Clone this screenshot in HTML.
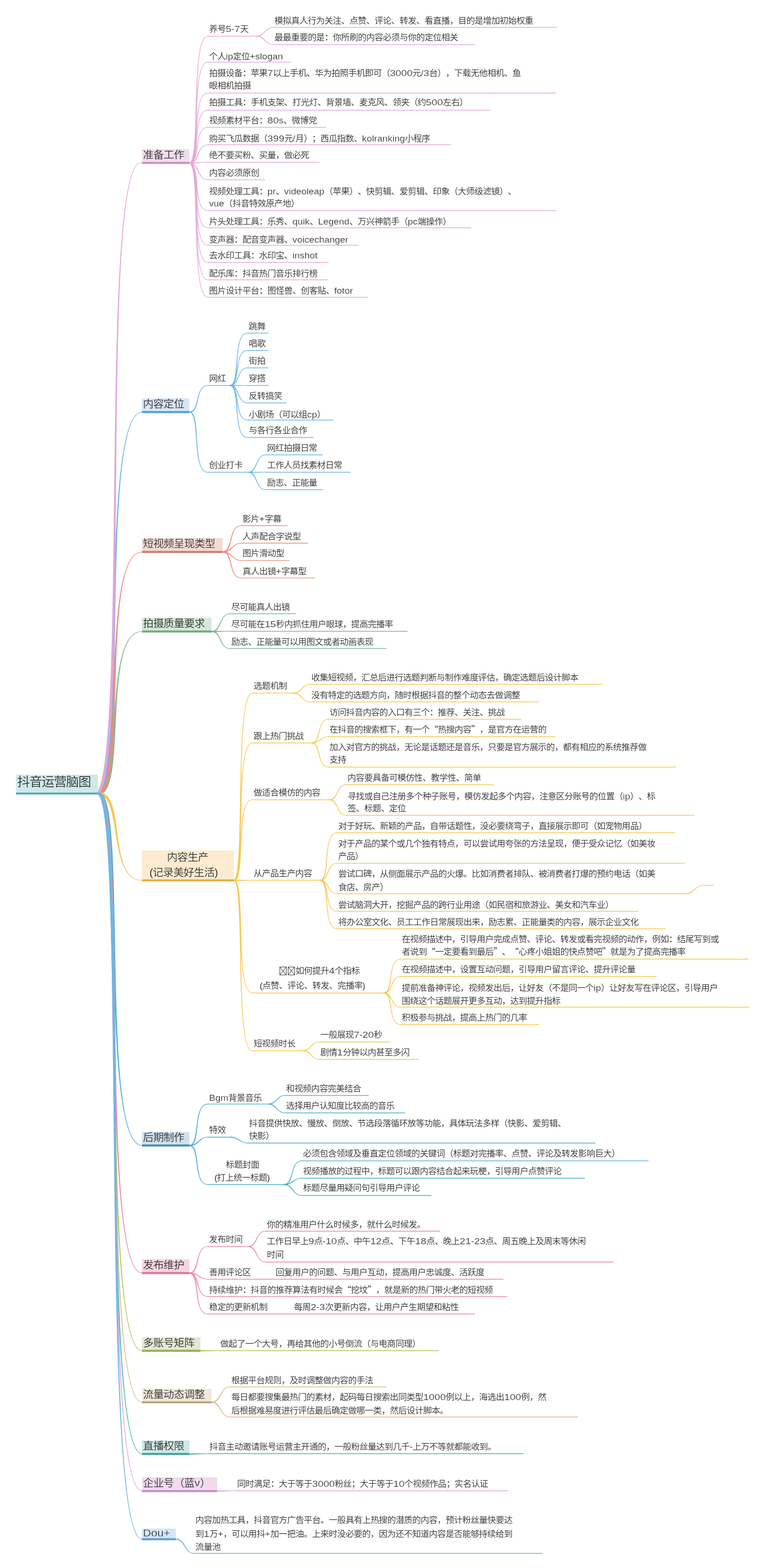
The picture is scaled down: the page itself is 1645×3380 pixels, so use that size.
<!DOCTYPE html>
<html lang="zh-CN">
<head>
<meta charset="utf-8">
<title>抖音运营脑图</title>
<style>
html,body{margin:0;padding:0;background:#fff;}
body{width:1645px;height:3380px;overflow:hidden;}
svg{display:block;will-change:transform;}
text{font-family:"Liberation Sans","Noto Sans CJK SC",sans-serif;fill:#333;font-weight:350;text-spacing-trim:space-all;white-space:pre;}
.t{font-size:18.7px;letter-spacing:-.7px;}
.m{font-size:22px;letter-spacing:-.65px;}
.r{font-size:27.7px;letter-spacing:-1.3px;}
.q{font-family:"Noto Sans CJK SC",sans-serif;}
.l{letter-spacing:0;stroke:#fff;stroke-width:.18px;}
.t .l{font-size:18.4px;}
.m .l{font-size:22.5px;stroke-width:.3px;}
.h path{stroke-width:1.4px;stroke-opacity:.12;}
.tofu rect,.tofu path{fill:none;stroke:#333;stroke-width:1.1;}
</style>
</head>
<body>
<svg width="1645" height="3380" viewBox="0 0 1645 3380">
<g><path fill="#6bb6ea" d="M211.5,1713.4L215.2,1712.6L218.5,1710.6L221.3,1707.7L223.6,1704L225.8,1699.4L227.7,1694.1L229.6,1688L231.2,1681.1L232.8,1673.5L234.2,1665.1L235.5,1656.1L236.7,1646.4L237.9,1636L238.9,1625L239.8,1613.4L240.7,1601.2L241.5,1588.5L242.2,1575.3L242.9,1561.5L243.5,1547.4L244.1,1532.8L244.6,1517.8L245,1502.4L245.4,1486.7L245.8,1470.6L246.2,1454.3L246.5,1437.7L246.8,1420.9L247.1,1403.9L247.4,1386.7L247.7,1369.4L248,1352L248.3,1334.5L248.6,1316.9L248.9,1299.3L249.2,1281.7L249.6,1264.1L249.9,1246.6L250.4,1229.1L250.8,1211.8L251.3,1194.6L251.9,1177.6L252.5,1160.8L253.1,1144.3L253.9,1128L254.7,1111.9L255.5,1096.2L256.5,1080.9L257.5,1065.9L258.6,1051.3L259.8,1037.1L261.2,1023.5L262.6,1010.3L264.1,997.6L265.7,985.4L267.5,973.9L269.3,962.9L271.3,952.6L273.5,942.9L275.7,934L278.1,925.7L280.7,918.2L283.4,911.5L286.2,905.6L289.2,900.6L292.4,896.4L295.7,893.1L299.1,890.8L302.7,889.3L306.5,888.9L306.5,887.6L302.4,888.2L298.6,889.7L294.9,892.2L291.4,895.6L288.2,899.9L285.1,905L282.2,911L279.4,917.8L276.8,925.3L274.3,933.6L272,942.6L269.8,952.3L267.7,962.6L265.8,973.6L263.9,985.2L262.2,997.3L260.6,1010L259.1,1023.2L257.7,1036.9L256.4,1051.1L255.2,1065.7L254.1,1080.7L253,1096.1L252.1,1111.8L251.2,1127.8L250.4,1144.1L249.6,1160.7L248.9,1177.5L248.2,1194.5L247.6,1211.7L247,1229L246.5,1246.5L246,1264L245.6,1281.6L245.1,1299.2L244.7,1316.8L244.3,1334.4L243.9,1351.9L243.5,1369.3L243.1,1386.7L242.7,1403.8L242.3,1420.8L241.9,1437.6L241.5,1454.2L241,1470.5L240.5,1486.5L240,1502.2L239.5,1517.6L238.9,1532.6L238.2,1547.1L237.5,1561.3L236.8,1575L236,1588.1L235.1,1600.8L234.2,1612.9L233.1,1624.5L232,1635.4L230.9,1645.7L229.6,1655.3L228.2,1664.2L226.8,1672.4L225.3,1679.8L223.6,1686.4L221.9,1692.1L220,1697L218.2,1701L216.3,1703.9L214.5,1705.8L212.9,1706.8L211.5,1707Z"/><path fill="#7bbc95" d="M211.5,1713.4L214.6,1713.1L217.5,1712.3L220.2,1711.1L222.7,1709.4L225,1707.3L227.1,1704.9L229.1,1702.1L230.8,1699L232.5,1695.6L234,1692L235.4,1688L236.7,1683.8L237.9,1679.3L239,1674.5L240,1669.6L241,1664.3L241.8,1658.9L242.6,1653.2L243.4,1647.4L244.1,1641.3L244.7,1635.1L245.3,1628.7L245.8,1622.2L246.3,1615.5L246.8,1608.6L247.2,1601.7L247.7,1594.7L248.1,1587.5L248.4,1580.3L248.8,1573L249.2,1565.6L249.5,1558.2L249.9,1550.8L250.3,1543.3L250.7,1535.8L251.1,1528.4L251.5,1520.9L251.9,1513.5L252.4,1506.1L252.9,1498.7L253.5,1491.4L254.1,1484.2L254.7,1477.1L255.4,1470.1L256.2,1463.1L257,1456.4L257.9,1449.7L258.9,1443.2L259.9,1436.8L261,1430.6L262.2,1424.6L263.5,1418.8L264.8,1413.2L266.3,1407.9L267.9,1402.7L269.6,1397.8L271.4,1393.2L273.3,1388.8L275.3,1384.8L277.4,1381L279.7,1377.5L282.1,1374.3L284.7,1371.5L287.3,1369L290.1,1366.9L293.1,1365.1L296.2,1363.7L299.5,1362.7L302.9,1362.1L306.5,1361.8L306.5,1360.7L302.8,1360.9L299.2,1361.5L295.8,1362.5L292.5,1364L289.4,1365.8L286.5,1368L283.7,1370.5L281.1,1373.4L278.6,1376.7L276.2,1380.2L273.9,1384L271.8,1388.2L269.8,1392.6L268,1397.2L266.2,1402.2L264.5,1407.3L263,1412.7L261.5,1418.4L260.1,1424.2L258.8,1430.2L257.6,1436.4L256.5,1442.8L255.4,1449.3L254.5,1456L253.5,1462.8L252.7,1469.8L251.9,1476.8L251.1,1483.9L250.4,1491.2L249.7,1498.5L249.1,1505.8L248.5,1513.2L248,1520.7L247.4,1528.1L246.9,1535.6L246.4,1543.1L245.9,1550.6L245.5,1558L245,1565.4L244.5,1572.7L244,1580L243.6,1587.2L243.1,1594.4L242.5,1601.4L242,1608.3L241.4,1615.1L240.8,1621.7L240.2,1628.2L239.5,1634.6L238.8,1640.7L238,1646.7L237.2,1652.5L236.4,1658L235.4,1663.4L234.4,1668.4L233.4,1673.3L232.2,1677.8L231,1682.1L229.7,1686.1L228.4,1689.8L227,1693.1L225.5,1696.1L223.9,1698.8L222.3,1701L220.6,1702.9L218.9,1704.4L217.1,1705.6L215.3,1706.4L213.5,1706.9L211.5,1707Z"/><path fill="#ee8b78" d="M211.5,1713.4L214.8,1712.9L217.9,1711.7L220.7,1709.8L223.2,1707.3L225.5,1704.3L227.5,1700.8L229.4,1696.8L231.1,1692.4L232.7,1687.5L234.1,1682.1L235.5,1676.3L236.7,1670.1L237.9,1663.5L238.9,1656.5L239.9,1649.1L240.8,1641.4L241.6,1633.3L242.4,1624.9L243.1,1616.2L243.7,1607.2L244.3,1597.9L244.8,1588.4L245.3,1578.7L245.8,1568.7L246.2,1558.6L246.6,1548.2L246.9,1537.7L247.3,1527.1L247.6,1516.3L247.9,1505.4L248.2,1494.5L248.5,1483.4L248.8,1472.3L249.2,1461.2L249.5,1450L249.9,1438.9L250.2,1427.8L250.7,1416.7L251.1,1405.6L251.6,1394.7L252.1,1383.8L252.7,1373L253.3,1362.4L254,1351.9L254.7,1341.6L255.5,1331.5L256.4,1321.5L257.3,1311.8L258.4,1302.3L259.5,1293.1L260.7,1284.1L262,1275.5L263.4,1267.1L264.9,1259.1L266.5,1251.4L268.2,1244.1L270.1,1237.2L272,1230.6L274.1,1224.5L276.3,1218.9L278.7,1213.7L281.2,1208.9L283.8,1204.7L286.6,1201L289.5,1197.8L292.6,1195.2L295.8,1193.1L299.2,1191.6L302.8,1190.7L306.5,1190.3L306.5,1189.2L302.6,1189.5L298.8,1190.4L295.3,1192L291.9,1194.2L288.6,1196.9L285.6,1200.1L282.7,1203.9L280,1208.2L277.4,1213L275,1218.3L272.7,1224L270.5,1230.1L268.5,1236.7L266.5,1243.7L264.7,1251L263,1258.7L261.4,1266.8L260,1275.1L258.6,1283.8L257.3,1292.8L256.1,1302L254.9,1311.5L253.9,1321.3L252.9,1331.2L252,1341.4L251.2,1351.7L250.4,1362.2L249.7,1372.9L249,1383.6L248.4,1394.5L247.8,1405.5L247.2,1416.5L246.7,1427.6L246.2,1438.8L245.8,1449.9L245.3,1461.1L244.9,1472.2L244.5,1483.3L244,1494.3L243.6,1505.3L243.2,1516.2L242.8,1526.9L242.3,1537.6L241.9,1548L241.4,1558.4L240.9,1568.5L240.3,1578.4L239.7,1588.1L239.1,1597.6L238.4,1606.8L237.7,1615.8L236.9,1624.4L236.1,1632.7L235.2,1640.7L234.3,1648.4L233.2,1655.7L232.1,1662.5L230.9,1669L229.7,1675L228.3,1680.6L226.9,1685.7L225.3,1690.3L223.7,1694.4L222,1697.9L220.3,1700.9L218.5,1703.3L216.7,1705L215,1706.2L213.3,1706.8L211.5,1707Z"/><path fill="#f9c74f" d="M211.5,1713.4L213.6,1713.4L215.6,1713.7L217.5,1714.2L219.3,1714.8L221,1715.7L222.6,1716.7L224.2,1717.8L225.7,1719.2L227.2,1720.7L228.6,1722.4L230,1724.3L231.3,1726.3L232.5,1728.5L233.7,1730.9L234.9,1733.4L236,1736.1L237,1738.9L238,1741.8L238.9,1744.9L239.8,1748L240.7,1751.3L241.5,1754.7L242.3,1758.1L243.1,1761.7L243.8,1765.3L244.6,1769L245.2,1772.8L245.9,1776.6L246.6,1780.4L247.2,1784.3L247.9,1788.3L248.5,1792.2L249.2,1796.2L249.8,1800.2L250.5,1804.3L251.1,1808.3L251.8,1812.3L252.5,1816.3L253.2,1820.3L254,1824.2L254.8,1828.1L255.6,1832L256.4,1835.9L257.3,1839.7L258.2,1843.4L259.2,1847.1L260.2,1850.7L261.3,1854.2L262.5,1857.6L263.7,1860.9L264.9,1864.2L266.3,1867.3L267.7,1870.4L269.2,1873.3L270.7,1876.1L272.4,1878.7L274.1,1881.2L276,1883.6L277.9,1885.8L279.9,1887.9L282.1,1889.8L284.3,1891.5L286.7,1893.1L289.1,1894.4L291.7,1895.6L294.4,1896.6L297.2,1897.3L300.2,1897.9L303.3,1898.2L306.5,1898.3L306.5,1897.2L303.4,1897L300.4,1896.7L297.5,1896.1L294.8,1895.4L292.2,1894.4L289.7,1893.3L287.4,1891.9L285.1,1890.4L283,1888.7L281,1886.8L279,1884.8L277.2,1882.6L275.5,1880.3L273.8,1877.8L272.3,1875.2L270.8,1872.4L269.4,1869.5L268.1,1866.5L266.9,1863.4L265.7,1860.2L264.6,1856.9L263.6,1853.5L262.6,1850L261.7,1846.4L260.8,1842.8L260,1839L259.2,1835.3L258.5,1831.4L257.8,1827.6L257.1,1823.7L256.5,1819.7L255.9,1815.7L255.3,1811.7L254.7,1807.7L254.2,1803.7L253.6,1799.7L253.1,1795.7L252.6,1791.7L252,1787.7L251.5,1783.7L250.9,1779.8L250.4,1775.9L249.8,1772L249.2,1768.2L248.6,1764.4L247.9,1760.8L247.2,1757.1L246.5,1753.6L245.8,1750.1L245,1746.7L244.1,1743.4L243.2,1740.2L242.2,1737.1L241.2,1734.1L240.1,1731.3L239,1728.5L237.7,1725.9L236.4,1723.4L234.9,1721L233.4,1718.8L231.8,1716.7L230,1714.8L228.1,1713.1L226.1,1711.5L224,1710.2L221.7,1709.1L219.3,1708.2L216.8,1707.6L214.2,1707.2L211.5,1707Z"/><path fill="#4baecb" d="M211.5,1713.4L213,1713.6L214.6,1714.5L216.3,1716.3L218.2,1718.9L220.1,1722.5L221.9,1727L223.6,1732.3L225.3,1738.4L226.8,1745.2L228.3,1752.8L229.6,1761L230.9,1769.9L232.1,1779.3L233.2,1789.4L234.2,1800.1L235.1,1811.3L236,1822.9L236.8,1835.1L237.6,1847.7L238.3,1860.8L238.9,1874.3L239.5,1888.1L240.1,1902.3L240.6,1916.8L241.1,1931.6L241.5,1946.6L242,1961.9L242.4,1977.4L242.8,1993.1L243.2,2009L243.6,2025L244,2041.1L244.4,2057.3L244.8,2073.5L245.2,2089.8L245.6,2106L246.1,2122.3L246.6,2138.5L247.1,2154.6L247.7,2170.6L248.3,2186.4L249,2202.1L249.7,2217.6L250.5,2233L251.3,2248L252.2,2262.8L253.1,2277.3L254.2,2291.5L255.3,2305.4L256.5,2318.9L257.8,2331.9L259.2,2344.6L260.7,2356.8L262.3,2368.5L264,2379.8L265.9,2390.5L267.8,2400.6L269.9,2410.2L272.1,2419.1L274.4,2427.4L276.9,2435.1L279.5,2442L282.2,2448.3L285.2,2453.8L288.2,2458.6L291.5,2462.5L295,2465.7L298.6,2468L302.5,2469.4L306.5,2469.8L306.5,2468.7L302.7,2468.2L299.1,2466.9L295.7,2464.7L292.4,2461.7L289.3,2457.8L286.3,2453.1L283.4,2447.7L280.8,2441.5L278.2,2434.6L275.8,2427L273.5,2418.7L271.4,2409.8L269.4,2400.3L267.6,2390.2L265.8,2379.5L264.2,2368.3L262.7,2356.6L261.2,2344.4L259.9,2331.7L258.7,2318.7L257.6,2305.2L256.6,2291.4L255.6,2277.2L254.8,2262.7L254,2247.9L253.2,2232.8L252.6,2217.5L252,2202L251.4,2186.3L250.9,2170.4L250.4,2154.5L250,2138.4L249.6,2122.2L249.3,2105.9L248.9,2089.7L248.6,2073.4L248.3,2057.2L248,2041L247.8,2024.9L247.5,2008.9L247.2,1993L246.9,1977.3L246.6,1961.8L246.2,1946.5L245.9,1931.4L245.5,1916.6L245.1,1902.1L244.6,1887.9L244.1,1874L243.5,1860.6L242.9,1847.5L242.3,1834.8L241.5,1822.6L240.7,1810.8L239.9,1799.6L238.9,1788.9L237.9,1778.7L236.7,1769.1L235.5,1760.1L234.2,1751.7L232.8,1744L231.2,1737L229.5,1730.6L227.7,1724.9L225.8,1720L223.6,1715.8L221.2,1712.3L218.4,1709.5L215.1,1707.7L211.5,1707Z"/><path fill="#ee86ab" d="M211.5,1713.4L212.7,1713.6L214.2,1714.9L216.1,1717.4L218,1721.2L220,1726.3L221.8,1732.5L223.6,1739.8L225.2,1748.2L226.8,1757.5L228.2,1767.9L229.6,1779.1L230.9,1791.2L232,1804.2L233.1,1817.9L234.1,1832.5L235.1,1847.7L235.9,1863.7L236.7,1880.3L237.5,1897.5L238.2,1915.3L238.8,1933.6L239.4,1952.5L239.9,1971.8L240.4,1991.6L240.9,2011.7L241.4,2032.2L241.8,2053.1L242.2,2074.2L242.6,2095.6L243,2117.2L243.4,2139L243.8,2160.9L244.1,2183L244.5,2205.1L245,2227.3L245.4,2249.4L245.8,2271.5L246.3,2293.6L246.9,2315.5L247.4,2337.3L248,2358.9L248.7,2380.3L249.4,2401.5L250.1,2422.3L251,2442.8L251.9,2463L252.8,2482.8L253.9,2502.1L255,2521L256.2,2539.3L257.5,2557.1L258.9,2574.4L260.4,2591L262,2607L263.7,2622.3L265.6,2636.8L267.5,2650.6L269.6,2663.6L271.8,2675.8L274.1,2687.1L276.6,2697.5L279.2,2707L282,2715.5L284.9,2723L288.1,2729.5L291.3,2734.9L294.8,2739.1L298.5,2742.3L302.4,2744.2L306.5,2744.8L306.5,2743.7L302.7,2743.1L299.1,2741.3L295.7,2738.3L292.4,2734.2L289.2,2728.9L286.2,2722.5L283.3,2715.1L280.6,2706.6L278,2697.2L275.6,2686.8L273.3,2675.5L271.2,2663.4L269.2,2650.4L267.3,2636.6L265.5,2622L263.9,2606.8L262.4,2590.8L260.9,2574.2L259.6,2557L258.4,2539.2L257.3,2520.8L256.3,2502L255.3,2482.6L254.4,2462.9L253.7,2442.7L252.9,2422.2L252.3,2401.4L251.7,2380.2L251.1,2358.8L250.6,2337.2L250.2,2315.4L249.8,2293.5L249.4,2271.5L249,2249.3L248.7,2227.2L248.4,2205L248.1,2182.9L247.8,2160.9L247.6,2138.9L247.3,2117.2L247,2095.5L246.7,2074.1L246.4,2053L246.1,2032.2L245.7,2011.6L245.4,1991.5L244.9,1971.7L244.5,1952.3L244,1933.5L243.5,1915.1L242.9,1897.3L242.2,1880L241.5,1863.4L240.7,1847.4L239.8,1832.1L238.9,1817.5L237.9,1803.7L236.7,1790.7L235.5,1778.5L234.2,1767.1L232.8,1756.6L231.3,1747.1L229.6,1738.5L227.8,1730.9L225.9,1724.3L223.8,1718.7L221.4,1714.1L218.8,1710.5L215.5,1708L211.5,1707Z"/><path fill="#a9c957" d="M211.5,1713.4L212.5,1713.7L214.1,1715.1L216,1718.1L218,1722.6L219.9,1728.6L221.8,1735.9L223.6,1744.4L225.2,1754.2L226.8,1765.1L228.2,1777.1L229.6,1790.2L230.8,1804.3L232,1819.3L233.1,1835.3L234.1,1852.2L235.1,1870L235.9,1888.5L236.7,1907.8L237.5,1927.8L238.1,1948.5L238.8,1969.8L239.4,1991.7L239.9,2014.2L240.4,2037.1L240.9,2060.5L241.3,2084.4L241.8,2108.6L242.2,2133.2L242.5,2158L242.9,2183.1L243.3,2208.5L243.7,2233.9L244.1,2259.6L244.5,2285.3L244.9,2311L245.3,2336.7L245.8,2362.4L246.2,2388.1L246.8,2413.5L247.3,2438.9L247.9,2464L248.6,2488.8L249.3,2513.4L250,2537.6L250.9,2561.5L251.8,2584.9L252.7,2607.9L253.8,2630.4L254.9,2652.3L256.1,2673.6L257.4,2694.3L258.8,2714.3L260.3,2733.6L261.9,2752.2L263.6,2770L265.5,2786.9L267.4,2802.9L269.5,2818L271.7,2832.2L274.1,2845.3L276.5,2857.4L279.2,2868.4L281.9,2878.3L284.9,2887L288,2894.5L291.3,2900.7L294.7,2905.7L298.4,2909.3L302.3,2911.6L306.5,2912.3L306.5,2911.2L302.8,2910.5L299.2,2908.4L295.7,2904.9L292.3,2900.1L289.1,2894L286.1,2886.6L283.2,2877.9L280.5,2868.1L277.9,2857.1L275.5,2845.1L273.2,2831.9L271.1,2817.8L269.1,2802.7L267.2,2786.7L265.4,2769.8L263.8,2752L262.3,2733.5L260.8,2714.2L259.5,2694.2L258.3,2673.5L257.2,2652.2L256.2,2630.2L255.2,2607.8L254.3,2584.8L253.6,2561.4L252.8,2537.6L252.2,2513.3L251.6,2488.8L251,2463.9L250.5,2438.8L250.1,2413.5L249.7,2388L249.3,2362.4L248.9,2336.7L248.6,2310.9L248.3,2285.2L248,2259.5L247.8,2233.9L247.5,2208.4L247.2,2183.1L246.9,2158L246.7,2133.1L246.4,2108.5L246,2084.3L245.7,2060.5L245.3,2037L244.9,2014.1L244.5,1991.6L244,1969.7L243.4,1948.3L242.8,1927.6L242.2,1907.6L241.5,1888.3L240.7,1869.7L239.8,1851.9L238.9,1835L237.8,1818.9L236.7,1803.8L235.5,1789.6L234.2,1776.4L232.8,1764.3L231.3,1753.2L229.6,1743.3L227.8,1734.5L225.9,1726.9L223.8,1720.4L221.5,1715.2L218.9,1711.1L215.6,1708.2L211.5,1707Z"/><path fill="#d9bd8b" d="M211.5,1713.4L212.4,1713.7L214,1715.2L215.9,1718.6L218,1723.6L219.9,1730.1L221.8,1738.1L223.6,1747.5L225.2,1758.1L226.8,1770.1L228.2,1783.2L229.6,1797.5L230.8,1812.9L232,1829.4L233.1,1846.9L234.1,1865.3L235.1,1884.7L235.9,1904.9L236.7,1926L237.5,1947.9L238.1,1970.5L238.8,1993.8L239.3,2017.7L239.9,2042.2L240.4,2067.3L240.9,2092.9L241.3,2119L241.7,2145.4L242.1,2172.2L242.5,2199.4L242.9,2226.8L243.3,2254.5L243.7,2282.3L244,2310.3L244.4,2338.4L244.8,2366.5L245.3,2394.6L245.7,2422.7L246.2,2450.7L246.7,2478.5L247.3,2506.2L247.9,2533.6L248.5,2560.8L249.2,2587.6L250,2614.1L250.8,2640.1L251.7,2665.7L252.7,2690.8L253.7,2715.4L254.8,2739.3L256.1,2762.6L257.4,2785.2L258.8,2807.1L260.3,2828.2L261.9,2848.5L263.6,2867.9L265.4,2886.3L267.4,2903.9L269.5,2920.4L271.7,2935.8L274,2950.2L276.5,2963.4L279.1,2975.4L281.9,2986.2L284.9,2995.7L288,3003.9L291.2,3010.7L294.7,3016.1L298.4,3020.1L302.3,3022.5L306.5,3023.3L306.5,3022.2L302.8,3021.4L299.2,3019.1L295.7,3015.4L292.3,3010.1L289.1,3003.4L286.1,2995.3L283.2,2985.8L280.5,2975.1L277.9,2963.1L275.5,2949.9L273.2,2935.6L271,2920.2L269,2903.7L267.1,2886.2L265.4,2867.7L263.7,2848.3L262.2,2828L260.8,2807L259.5,2785.1L258.3,2762.5L257.1,2739.2L256.1,2715.2L255.2,2690.7L254.3,2665.6L253.5,2640L252.8,2614L252.1,2587.5L251.5,2560.7L251,2533.5L250.5,2506.1L250,2478.5L249.6,2450.6L249.3,2422.6L248.9,2394.6L248.6,2366.5L248.3,2338.3L248,2310.3L247.7,2282.3L247.5,2254.4L247.2,2226.8L246.9,2199.3L246.6,2172.2L246.3,2145.4L246,2118.9L245.7,2092.8L245.3,2067.2L244.9,2042.1L244.5,2017.6L244,1993.6L243.4,1970.3L242.8,1947.7L242.2,1925.8L241.5,1904.7L240.7,1884.5L239.8,1865L238.9,1846.5L237.8,1829L236.7,1812.5L235.5,1797L234.2,1782.6L232.8,1769.4L231.3,1757.3L229.6,1746.4L227.9,1736.8L225.9,1728.5L223.9,1721.6L221.6,1715.9L219,1711.5L215.8,1708.3L211.5,1707Z"/><path fill="#e3a6d6" d="M214,1712.1L217.1,1707L219.9,1700.6L222.4,1692.9L224.8,1684L227,1673.8L229,1662.3L230.9,1649.7L232.7,1636L234.4,1621.1L235.9,1605.1L237.3,1588.2L238.6,1570.2L239.8,1551.3L241,1531.5L242,1510.9L242.9,1489.5L243.7,1467.2L244.5,1444.3L245.2,1420.7L245.8,1396.5L246.4,1371.6L246.9,1346.3L247.3,1320.4L247.8,1294.1L248.1,1267.3L248.5,1240.2L248.8,1212.8L249,1185.1L249.3,1157.1L249.5,1129L249.8,1100.7L250,1072.3L250.2,1043.8L250.5,1015.3L250.7,986.9L251,958.5L251.3,930.3L251.6,902.2L251.9,874.3L252.3,846.6L252.7,819.3L253.2,792.2L253.7,765.6L254.3,739.4L255,713.6L255.7,688.4L256.5,663.7L257.3,639.7L258.3,616.2L259.3,593.5L260.5,571.5L261.7,550.3L263.1,529.9L264.5,510.3L266.1,491.7L267.8,474L269.6,457.4L271.5,441.7L273.6,427.2L275.9,413.8L278.2,401.5L280.7,390.5L283.4,380.8L286.3,372.3L289.3,365.3L292.4,359.6L295.7,355.4L299.1,352.7L302.6,351.5L306.3,351.8L306.7,350.7L302.5,350.4L298.5,351.7L294.8,354.6L291.4,358.9L288.1,364.7L285,371.9L282.1,380.4L279.4,390.2L276.8,401.2L274.4,413.5L272.1,426.9L270,441.5L267.9,457.2L266.1,473.8L264.3,491.5L262.6,510.2L261.1,529.7L259.7,550.1L258.4,571.4L257.1,593.4L256,616.1L254.9,639.6L254,663.7L253.1,688.3L252.3,713.6L251.5,739.3L250.8,765.5L250.2,792.2L249.6,819.2L249.1,846.6L248.6,874.2L248.2,902.1L247.7,930.2L247.3,958.5L247,986.8L246.6,1015.3L246.3,1043.8L245.9,1072.2L245.6,1100.6L245.2,1128.9L244.9,1157.1L244.5,1185L244.1,1212.7L243.7,1240.1L243.3,1267.3L242.8,1294L242.3,1320.3L241.8,1346.2L241.2,1371.5L240.5,1396.3L239.8,1420.5L239,1444.1L238.2,1467L237.3,1489.2L236.3,1510.6L235.2,1531.2L234,1551L232.8,1569.8L231.4,1587.7L229.9,1604.6L228.3,1620.4L226.7,1635.2L224.9,1648.9L222.9,1661.3L220.9,1672.6L218.7,1682.5L216.4,1691.2L214,1698.4L211.5,1704.1L209,1708.3Z"/><path fill="#45b8ae" d="M211.5,1713.4L212.4,1713.7L214.1,1715.5L216.2,1719.1L218.3,1724.6L220.4,1731.7L222.3,1740.4L224.2,1750.6L225.9,1762.2L227.5,1775.1L229,1789.4L230.4,1804.9L231.7,1821.6L232.9,1839.5L234.1,1858.5L235.1,1878.5L236.1,1899.5L236.9,1921.5L237.8,1944.3L238.5,1968.1L239.2,1992.6L239.8,2017.9L240.4,2043.8L241,2070.4L241.5,2097.6L241.9,2125.4L242.4,2153.7L242.8,2182.4L243.2,2211.5L243.5,2240.9L243.9,2270.7L244.3,2300.7L244.6,2330.9L245,2361.3L245.4,2391.7L245.7,2422.2L246.1,2452.8L246.6,2483.2L247,2513.6L247.5,2543.8L248,2573.8L248.6,2603.6L249.2,2633L249.9,2662.1L250.6,2690.8L251.4,2719.1L252.2,2746.9L253.2,2774.1L254.2,2800.7L255.3,2826.7L256.5,2852L257.7,2876.5L259.1,2900.3L260.6,2923.1L262.1,2945.1L263.8,2966.2L265.6,2986.2L267.6,3005.2L269.6,3023.1L271.8,3039.9L274.1,3055.5L276.6,3069.8L279.2,3082.8L282,3094.5L284.9,3104.9L288,3113.7L291.2,3121.1L294.7,3127L298.4,3131.3L302.3,3133.9L306.5,3134.8L306.5,3133.7L302.8,3132.8L299.2,3130.4L295.7,3126.3L292.4,3120.6L289.2,3113.3L286.1,3104.5L283.3,3094.2L280.5,3082.6L278,3069.6L275.6,3055.3L273.3,3039.7L271.2,3023L269.2,3005.1L267.4,2986.1L265.6,2966L264,2945L262.5,2923L261.1,2900.1L259.8,2876.4L258.7,2851.9L257.6,2826.6L256.6,2800.6L255.7,2774L254.8,2746.8L254.1,2719L253.4,2690.8L252.8,2662.1L252.2,2633L251.7,2603.5L251.2,2573.7L250.8,2543.7L250.4,2513.5L250.1,2483.2L249.8,2452.7L249.5,2422.2L249.2,2391.7L249,2361.2L248.7,2330.9L248.5,2300.7L248.2,2270.7L247.9,2240.9L247.7,2211.4L247.4,2182.3L247.1,2153.6L246.8,2125.3L246.4,2097.6L246,2070.3L245.5,2043.7L245,2017.7L244.5,1992.5L243.9,1967.9L243.2,1944.2L242.5,1921.3L241.7,1899.3L240.8,1878.2L239.8,1858.1L238.8,1839.1L237.6,1821.2L236.3,1804.4L235,1788.8L233.5,1774.4L231.9,1761.3L230.2,1749.6L228.4,1739.2L226.4,1730.2L224.3,1722.6L221.9,1716.5L219.2,1711.8L215.9,1708.4L211.5,1707Z"/><path fill="#e7a4dc" d="M211.5,1713.4L212.4,1713.7L214.1,1715.6L216.2,1719.5L218.4,1725.3L220.4,1732.8L222.4,1742L224.3,1752.8L226,1765L227.6,1778.7L229.1,1793.8L230.6,1810.2L231.9,1827.8L233.1,1846.7L234.2,1866.8L235.3,1887.9L236.2,1910.1L237.1,1933.3L238,1957.5L238.7,1982.5L239.4,2008.4L240,2035.1L240.6,2062.6L241.2,2090.7L241.7,2119.4L242.1,2148.7L242.6,2178.6L243,2208.9L243.4,2239.6L243.7,2270.8L244.1,2302.2L244.4,2333.9L244.8,2365.8L245.2,2397.9L245.5,2430L245.9,2462.2L246.3,2494.5L246.7,2526.6L247.2,2558.7L247.6,2590.6L248.2,2622.3L248.7,2653.7L249.3,2684.9L250,2715.6L250.7,2745.9L251.5,2775.8L252.3,2805.1L253.3,2833.9L254.3,2862L255.3,2889.4L256.5,2916.1L257.8,2942L259.1,2967.1L260.6,2991.3L262.2,3014.5L263.9,3036.7L265.7,3057.9L267.6,3078L269.6,3096.9L271.8,3114.6L274.1,3131L276.6,3146.2L279.2,3159.9L282,3172.3L284.9,3183.2L288,3192.5L291.2,3200.3L294.7,3206.5L298.4,3211.1L302.3,3213.9L306.5,3214.8L306.5,3213.7L302.8,3212.8L299.2,3210.2L295.7,3205.9L292.4,3199.8L289.2,3192.1L286.1,3182.8L283.3,3172L280.6,3159.7L278,3145.9L275.6,3130.8L273.3,3114.4L271.2,3096.7L269.2,3077.8L267.4,3057.8L265.6,3036.6L264,3014.4L262.6,2991.2L261.2,2967L259.9,2941.9L258.7,2916L257.6,2889.3L256.7,2861.9L255.7,2833.8L254.9,2805L254.2,2775.7L253.5,2745.9L252.9,2715.5L252.3,2684.8L251.8,2653.7L251.4,2622.3L250.9,2590.6L250.6,2558.7L250.2,2526.6L249.9,2494.4L249.6,2462.2L249.4,2430L249.1,2397.8L248.9,2365.8L248.6,2333.8L248.4,2302.2L248.1,2270.7L247.9,2239.6L247.6,2208.9L247.3,2178.5L246.9,2148.7L246.6,2119.3L246.2,2090.6L245.7,2062.5L245.2,2035L244.7,2008.3L244.1,1982.4L243.4,1957.3L242.7,1933.1L241.9,1909.9L241,1887.7L240,1866.5L238.9,1846.4L237.8,1827.4L236.5,1809.7L235.1,1793.2L233.7,1778.1L232.1,1764.3L230.3,1751.8L228.5,1740.9L226.5,1731.4L224.3,1723.4L222,1717L219.3,1712L216,1708.5L211.5,1707Z"/><path fill="#6bb6ea" d="M211.5,1713.4L212.3,1713.7L214.1,1715.8L216.3,1720L218.4,1726.2L220.5,1734.3L222.5,1744.2L224.4,1755.7L226.1,1768.8L227.8,1783.4L229.3,1799.5L230.7,1817L232,1835.9L233.3,1856.1L234.4,1877.5L235.5,1900.2L236.4,1923.9L237.3,1948.7L238.1,1974.5L238.9,2001.3L239.6,2029L240.2,2057.5L240.8,2086.8L241.4,2116.9L241.9,2147.6L242.3,2179L242.8,2210.9L243.2,2243.3L243.6,2276.1L243.9,2309.4L244.3,2343L244.6,2376.9L245,2411L245.3,2445.3L245.7,2479.6L246.1,2514.1L246.4,2548.5L246.9,2582.9L247.3,2617.2L247.8,2651.3L248.3,2685.2L248.8,2718.8L249.4,2752L250.1,2784.9L250.8,2817.3L251.6,2849.3L252.4,2880.6L253.3,2911.3L254.3,2941.4L255.4,2970.7L256.6,2999.3L257.8,3027L259.2,3053.8L260.6,3079.6L262.2,3104.4L263.9,3128.2L265.7,3150.8L267.6,3172.3L269.6,3192.5L271.8,3211.4L274.1,3229L276.6,3245.2L279.2,3259.9L282,3273.1L284.9,3284.7L288,3294.7L291.2,3303.1L294.7,3309.7L298.3,3314.5L302.3,3317.5L306.5,3318.5L306.5,3317.3L302.8,3316.4L299.2,3313.7L295.7,3309L292.4,3302.5L289.2,3294.3L286.1,3284.4L283.3,3272.8L280.6,3259.6L278,3244.9L275.6,3228.8L273.3,3211.2L271.2,3192.3L269.2,3172.1L267.4,3150.7L265.7,3128L264.1,3104.3L262.6,3079.5L261.2,3053.6L260,3026.9L258.8,2999.2L257.7,2970.6L256.7,2941.3L255.8,2911.3L255,2880.5L254.3,2849.2L253.6,2817.3L253,2784.9L252.4,2752L251.9,2718.7L251.5,2685.1L251.1,2651.3L250.7,2617.2L250.4,2582.9L250.1,2548.5L249.8,2514.1L249.5,2479.6L249.3,2445.2L249,2411L248.8,2376.8L248.6,2343L248.3,2309.4L248.1,2276.1L247.8,2243.2L247.5,2210.8L247.1,2178.9L246.8,2147.5L246.4,2116.8L245.9,2086.8L245.4,2057.4L244.9,2028.9L244.3,2001.2L243.6,1974.4L242.9,1948.5L242,1923.7L241.1,1899.9L240.2,1877.3L239.1,1855.8L237.9,1835.6L236.7,1816.6L235.3,1799L233.8,1782.8L232.2,1768L230.5,1754.8L228.6,1743.1L226.6,1733L224.4,1724.5L222.1,1717.6L219.4,1712.4L216.1,1708.6L211.5,1707Z"/></g>
<g class="h"><path fill="#e5abd8" stroke="#e5abd8" d="M408.5,352.4L412.3,350.7L414.9,346.3L417,339.8L418.7,331.2L420,320.7L421.1,308.6L421.9,295.1L422.5,280.4L423,264.8L423.4,248.5L423.8,231.7L424.2,214.6L424.7,197.6L425.3,180.8L426,164.5L427,148.9L428.2,134.2L429.8,120.8L431.7,108.8L434,98.4L436.8,90L440.1,83.7L443.8,79.8L448,78.5L448,77.5L443.2,78.9L439.1,83.1L435.7,89.5L432.9,98.1L430.5,108.5L428.5,120.6L426.9,134.1L425.6,148.8L424.5,164.4L423.7,180.8L423.1,197.6L422.5,214.6L422,231.6L421.6,248.4L421.1,264.8L420.5,280.4L419.8,295L419,308.5L417.9,320.5L416.5,330.8L414.8,339.2L412.9,345.4L410.6,349.1L408.5,350.1Z"/><path fill="#e5abd8" stroke="#e5abd8" d="M552.5,79L554.7,78.8L556.8,78.6L558.8,78.1L560.6,77.4L562.3,76.7L563.8,75.8L565.3,74.8L566.7,73.7L568,72.6L569.2,71.4L570.4,70.2L571.6,69L572.7,67.8L573.9,66.7L575.1,65.5L576.3,64.4L577.6,63.4L578.9,62.5L580.3,61.7L581.8,60.9L583.4,60.4L585.1,59.9L587,59.6L589,59.5L589,58.5L586.9,58.5L584.9,58.8L583.1,59.3L581.3,59.9L579.7,60.6L578.2,61.5L576.8,62.4L575.5,63.4L574.2,64.5L572.9,65.6L571.7,66.8L570.5,68L569.3,69.1L568.1,70.3L566.9,71.4L565.6,72.4L564.3,73.4L562.9,74.3L561.5,75.1L559.9,75.7L558.3,76.3L556.5,76.7L554.6,77L552.5,77Z"/><path fill="#e5abd8" stroke="#e5abd8" d="M552.5,79L554.6,79L556.5,79.3L558.3,79.7L559.9,80.2L561.4,80.9L562.9,81.6L564.3,82.5L565.6,83.4L566.9,84.4L568.1,85.4L569.3,86.5L570.6,87.6L571.8,88.8L573,89.9L574.2,91L575.5,92L576.9,93L578.3,93.9L579.8,94.7L581.4,95.4L583.1,96L584.9,96.4L586.9,96.7L589,96.8L589,95.7L587,95.6L585.2,95.3L583.4,94.9L581.8,94.3L580.3,93.6L578.9,92.8L577.6,91.9L576.3,91L575.1,89.9L573.9,88.8L572.8,87.7L571.6,86.6L570.4,85.4L569.2,84.3L567.9,83.1L566.6,82L565.3,81L563.8,80.1L562.2,79.2L560.6,78.5L558.8,77.9L556.8,77.4L554.7,77.1L552.5,77Z"/><path fill="#e5abd8" stroke="#e5abd8" d="M408.5,352.4L412.1,351L414.9,347.5L417,342.2L418.7,335.4L420,327L421.1,317.4L421.9,306.7L422.6,295L423.1,282.5L423.5,269.6L423.9,256.2L424.4,242.7L424.9,229.1L425.5,215.8L426.2,202.8L427.2,190.4L428.4,178.7L430,168.1L431.9,158.5L434.2,150.3L436.9,143.6L440.1,138.6L443.8,135.6L448,134.6L448,133.4L443.3,134.6L439.3,137.9L435.9,143.1L433.1,149.9L430.7,158.2L428.7,167.8L427.1,178.6L425.8,190.3L424.8,202.7L423.9,215.7L423.2,229L422.7,242.6L422.2,256.1L421.7,269.5L421.2,282.5L420.6,294.9L419.9,306.5L419,317.2L417.9,326.7L416.5,334.9L414.9,341.6L412.9,346.4L410.7,349.3L408.5,350.1Z"/><path fill="#e5abd8" stroke="#e5abd8" d="M408.5,352.4L412,351.5L414.8,349L416.9,345.2L418.7,340.4L420.1,334.6L421.2,327.8L422.1,320.4L422.8,312.2L423.4,303.6L423.9,294.6L424.3,285.3L424.8,275.9L425.3,266.5L426,257.3L426.8,248.3L427.8,239.7L429,231.6L430.5,224.2L432.4,217.6L434.6,211.9L437.3,207.3L440.4,203.9L443.9,201.8L448,201.1L448,199.9L443.5,200.7L439.6,203L436.3,206.6L433.6,211.4L431.2,217.2L429.3,223.9L427.7,231.4L426.4,239.5L425.3,248.1L424.4,257.1L423.7,266.4L423.1,275.8L422.5,285.2L422,294.5L421.4,303.5L420.8,312.1L420,320.2L419.1,327.5L417.9,334.1L416.6,339.8L414.9,344.3L413,347.6L410.8,349.5L408.5,350.1Z"/><path fill="#e5abd8" stroke="#e5abd8" d="M408.5,352.4L411.8,351.7L414.6,349.8L416.9,346.9L418.6,343.2L420.1,338.8L421.3,333.7L422.2,328L423,321.9L423.7,315.4L424.2,308.5L424.8,301.5L425.3,294.4L425.9,287.4L426.6,280.4L427.4,273.6L428.5,267.1L429.7,261L431.2,255.5L433,250.5L435.2,246.2L437.7,242.8L440.7,240.2L444.1,238.6L448,238.1L448,236.9L443.8,237.5L440.1,239.3L436.9,242L434.2,245.6L431.9,250L430,255.1L428.4,260.7L427.1,266.9L426,273.4L425.1,280.2L424.3,287.2L423.6,294.3L423,301.4L422.4,308.4L421.8,315.2L421,321.6L420.2,327.7L419.2,333.3L418,338.2L416.6,342.4L414.9,345.8L413,348.2L410.9,349.6L408.5,350.1Z"/><path fill="#e5abd8" stroke="#e5abd8" d="M408.5,352.4L411.6,352L414.3,350.7L416.6,348.7L418.5,346.1L420.1,343.1L421.4,339.6L422.5,335.7L423.4,331.6L424.2,327.1L425,322.5L425.7,317.8L426.4,313L427.1,308.2L427.9,303.5L428.8,298.9L429.9,294.6L431.1,290.5L432.6,286.8L434.3,283.4L436.3,280.6L438.7,278.2L441.4,276.5L444.4,275.4L448,275.1L448,273.9L444.2,274.3L440.9,275.5L437.9,277.3L435.4,279.8L433.3,282.8L431.4,286.2L429.8,290.1L428.5,294.2L427.4,298.6L426.4,303.2L425.5,308L424.7,312.7L423.9,317.5L423.2,322.2L422.4,326.8L421.5,331.1L420.5,335.2L419.4,338.9L418.1,342.2L416.7,345L415,347.2L413.1,348.8L411,349.8L408.5,350.1Z"/><path fill="#e5abd8" stroke="#e5abd8" d="M408.5,352.4L411.3,352.2L413.8,351.6L416,350.5L418,349.2L419.8,347.6L421.3,345.8L422.7,343.7L424,341.6L425.2,339.3L426.2,336.9L427.3,334.4L428.3,332L429.3,329.5L430.4,327.1L431.5,324.8L432.7,322.5L434,320.5L435.4,318.5L437,316.9L438.7,315.4L440.7,314.2L442.8,313.3L445.3,312.7L448,312.6L448,311.4L445.1,311.7L442.5,312.2L440.1,313.2L438,314.4L436.1,316L434.4,317.7L432.9,319.7L431.5,321.8L430.2,324.1L429,326.4L427.8,328.8L426.7,331.3L425.7,333.7L424.6,336.1L423.4,338.4L422.3,340.6L421,342.6L419.7,344.5L418.2,346.1L416.6,347.5L414.9,348.6L413,349.4L410.9,349.9L408.5,350.1Z"/><path fill="#e5abd8" stroke="#e5abd8" d="M408.5,352.4L410.7,352.4L412.7,352.4L414.7,352.3L416.5,352.3L418.3,352.2L420,352.1L421.6,352L423.2,351.9L424.7,351.8L426.2,351.7L427.6,351.6L429,351.5L430.4,351.4L431.9,351.2L433.3,351.1L434.7,351L436.2,350.9L437.7,350.8L439.2,350.8L440.8,350.7L442.5,350.6L444.2,350.6L446.1,350.6L448,350.6L448,349.4L446.1,349.5L444.2,349.5L442.5,349.5L440.8,349.5L439.2,349.5L437.6,349.6L436.1,349.6L434.6,349.6L433.2,349.7L431.8,349.7L430.4,349.7L428.9,349.8L427.5,349.8L426.1,349.9L424.6,349.9L423.1,349.9L421.5,350L419.9,350L418.2,350L416.5,350.1L414.6,350.1L412.7,350.1L410.7,350.1L408.5,350.1Z"/><path fill="#e5abd8" stroke="#e5abd8" d="M408.5,352.4L410.9,352.6L413,353L414.9,353.8L416.6,354.8L418.2,356.1L419.7,357.6L421,359.3L422.3,361.2L423.5,363.2L424.7,365.3L425.8,367.5L426.9,369.7L428.1,372L429.2,374.2L430.5,376.4L431.8,378.5L433.2,380.5L434.7,382.3L436.4,383.9L438.3,385.3L440.4,386.5L442.7,387.3L445.2,387.9L448,388.1L448,386.9L445.4,386.8L443,386.2L440.9,385.4L439,384.3L437.2,383L435.7,381.4L434.3,379.6L433,377.7L431.8,375.7L430.6,373.5L429.5,371.3L428.5,369L427.4,366.7L426.3,364.5L425.2,362.3L424,360.1L422.7,358.1L421.3,356.2L419.7,354.5L417.9,353L415.9,351.8L413.7,350.9L411.2,350.3L408.5,350.1Z"/><path fill="#e5abd8" stroke="#e5abd8" d="M408.5,352.4L410.9,352.8L413.1,354.1L414.9,356.3L416.6,359.3L418,363.1L419.3,367.5L420.3,372.5L421.1,378L421.9,383.9L422.6,390L423.2,396.3L423.9,402.7L424.6,409.1L425.4,415.5L426.3,421.6L427.4,427.5L428.7,433L430.3,438.2L432.2,442.7L434.5,446.7L437.1,450L440.2,452.5L443.9,454L448,454.6L448,453.4L444.2,452.9L440.8,451.5L437.9,449.2L435.4,446.1L433.3,442.2L431.5,437.7L430,432.7L428.8,427.2L427.8,421.4L426.9,415.2L426.2,408.9L425.6,402.5L425,396.1L424.4,389.8L423.8,383.7L423.1,377.8L422.3,372.2L421.3,367.1L420.1,362.4L418.6,358.4L416.8,355L414.6,352.4L411.8,350.7L408.5,350.1Z"/><path fill="#e5abd8" stroke="#e5abd8" d="M408.5,352.4L410.9,353L413,354.7L414.9,357.8L416.6,361.9L418,367.2L419.1,373.2L420.1,380.1L420.8,387.6L421.5,395.5L422.1,403.9L422.7,412.5L423.2,421.2L423.8,429.9L424.6,438.5L425.5,446.9L426.5,454.9L427.8,462.4L429.4,469.3L431.4,475.5L433.7,480.9L436.5,485.3L439.7,488.7L443.6,490.8L448,491.6L448,490.4L443.9,489.8L440.4,487.8L437.4,484.6L434.8,480.4L432.5,475.1L430.7,469L429.2,462.1L427.9,454.7L426.9,446.7L426.1,438.4L425.5,429.8L424.9,421.1L424.4,412.4L423.9,403.8L423.4,395.4L422.8,387.4L422.1,379.9L421.2,372.9L420.1,366.7L418.7,361.3L416.9,356.8L414.7,353.3L411.9,350.9L408.5,350.1Z"/><path fill="#e5abd8" stroke="#e5abd8" d="M408.5,352.4L410.8,353.1L412.9,355.4L414.9,359.3L416.5,364.7L417.9,371.3L419,379.1L420,387.8L420.7,397.3L421.3,407.4L421.8,418L422.4,428.9L422.9,440L423.5,451.1L424.2,462L425,472.6L426.1,482.8L427.4,492.3L429,501.1L431,509L433.3,515.8L436.1,521.4L439.5,525.6L443.4,528.3L448,529.2L448,528.2L443.9,527.3L440.2,524.8L437.1,520.8L434.4,515.3L432.1,508.6L430.3,500.8L428.7,492.1L427.5,482.6L426.5,472.5L425.7,461.9L425.1,451L424.6,439.9L424.1,428.9L423.7,418L423.2,407.3L422.7,397.2L422,387.6L421.1,378.9L420.1,371L418.7,364.1L417,358.5L414.8,354.1L412.1,351.2L408.5,350.1Z"/><path fill="#e5abd8" stroke="#e5abd8" d="M408.5,352.4L410.7,353.2L412.9,356L414.9,360.8L416.5,367.4L417.9,375.4L419,384.9L419.9,395.4L420.6,406.9L421.2,419.1L421.7,431.9L422.2,445.1L422.7,458.5L423.2,471.9L423.9,485.1L424.8,497.9L425.8,510.2L427.1,521.7L428.7,532.3L430.7,541.8L433.1,550L435.9,556.7L439.3,561.8L443.3,565.1L448,566.2L448,565.2L443.8,564.1L440.2,561.1L436.9,556.2L434.2,549.6L431.9,541.5L430,532.1L428.5,521.5L427.2,510L426.2,497.8L425.5,485L424.9,471.8L424.4,458.4L424,445.1L423.5,431.9L423.1,419.1L422.6,406.8L421.9,395.3L421.1,384.7L420,375.1L418.7,366.9L417,360.1L414.9,354.9L412.1,351.4L408.5,350.1Z"/><path fill="#e5abd8" stroke="#e5abd8" d="M408.5,352.4L410.7,353.4L412.9,356.7L414.9,362.4L416.5,370.1L417.9,379.6L419,390.7L419.8,403.1L420.5,416.6L421.1,431L421.6,446L422.1,461.5L422.6,477.3L423.1,493L423.8,508.5L424.6,523.5L425.7,537.9L427,551.5L428.6,563.9L430.6,575.1L432.9,584.7L435.8,592.6L439.2,598.6L443.2,602.4L448,603.8L448,602.7L443.8,601.5L440.1,597.9L436.9,592.1L434.1,584.4L431.8,574.8L429.9,563.7L428.3,551.3L427.1,537.8L426.1,523.4L425.3,508.4L424.7,492.9L424.3,477.2L423.9,461.5L423.5,446L423,430.9L422.5,416.5L421.9,403L421.1,390.5L420,379.4L418.7,369.7L417,361.8L414.9,355.7L412.2,351.7L408.5,350.1Z"/><path fill="#e5abd8" stroke="#e5abd8" d="M408.5,352.4L410.6,353.5L412.8,357.4L414.8,363.9L416.5,372.9L417.9,383.8L419,396.5L419.8,410.8L420.5,426.3L421.1,442.9L421.6,460.2L422,477.9L422.5,496L423,514L423.7,531.9L424.5,549.2L425.6,565.7L426.9,581.3L428.5,595.6L430.5,608.4L432.9,619.4L435.7,628.5L439.1,635.3L443.2,639.7L448,641.2L448,640.2L443.8,638.8L440.1,634.7L436.8,628.1L434,619.1L431.7,608.1L429.8,595.4L428.2,581.1L427,565.6L426,549.1L425.2,531.8L424.6,514L424.2,496L423.8,477.9L423.4,460.1L423,442.8L422.5,426.3L421.9,410.7L421.1,396.4L420,383.6L418.7,372.5L417,363.4L415,356.5L412.3,351.9L408.5,350.1Z"/><path fill="#6bb6ea" stroke="#6bb6ea" d="M408.5,889.4L411.5,889.1L414.1,888.1L416.4,886.7L418.4,884.7L420,882.4L421.4,879.8L422.7,876.9L423.8,873.7L424.7,870.4L425.6,866.9L426.4,863.4L427.3,859.8L428.1,856.3L429,852.7L430,849.3L431.1,846.1L432.4,843.1L433.8,840.3L435.5,837.8L437.4,835.7L439.5,833.9L442,832.6L444.8,831.8L448,831.5L448,830.5L444.6,830.7L441.6,831.6L438.9,833L436.6,834.8L434.5,837L432.7,839.6L431.2,842.5L429.8,845.6L428.6,848.9L427.5,852.3L426.5,855.9L425.6,859.4L424.7,863L423.8,866.5L422.9,869.9L421.9,873.1L420.8,876.1L419.5,878.8L418.2,881.3L416.7,883.3L415,884.9L413.1,886.1L411,886.8L408.5,887.1Z"/><path fill="#6bb6ea" stroke="#6bb6ea" d="M496,832L499.1,831.3L501.7,829.4L503.8,826.6L505.5,823L506.9,818.6L508,813.5L508.9,807.9L509.6,801.8L510.3,795.3L510.8,788.6L511.3,781.6L511.8,774.6L512.4,767.5L513,760.6L513.8,753.8L514.8,747.4L516,741.4L517.4,735.8L519.2,730.9L521.3,726.7L523.7,723.2L526.5,720.7L529.8,719.1L533.5,718.5L533.5,717.5L529.4,718L525.9,719.8L522.8,722.5L520.3,726.1L518.1,730.4L516.3,735.5L514.8,741.1L513.5,747.2L512.5,753.7L511.7,760.4L510.9,767.4L510.3,774.4L509.8,781.5L509.2,788.4L508.6,795.2L508,801.6L507.2,807.6L506.3,813.2L505.1,818.1L503.8,822.3L502.2,825.7L500.4,828.1L498.3,829.6L496,830Z"/><path fill="#6bb6ea" stroke="#6bb6ea" d="M496,832L498.9,831.5L501.5,830.3L503.6,828.4L505.4,825.9L506.9,822.9L508.1,819.5L509.2,815.7L510,811.6L510.8,807.2L511.5,802.7L512.2,798.1L512.8,793.4L513.5,788.7L514.2,784L515.1,779.5L516.1,775.2L517.3,771.2L518.7,767.5L520.4,764.3L522.3,761.5L524.6,759.2L527.1,757.5L530.1,756.4L533.5,756L533.5,755L529.8,755.3L526.6,756.5L523.8,758.3L521.4,760.7L519.4,763.7L517.6,767L516.1,770.8L514.9,774.9L513.8,779.2L512.9,783.8L512.1,788.4L511.3,793.1L510.6,797.8L509.9,802.5L509.2,807L508.4,811.3L507.5,815.3L506.4,818.9L505.2,822.2L503.8,824.9L502.3,827.1L500.4,828.7L498.4,829.7L496,830Z"/><path fill="#6bb6ea" stroke="#6bb6ea" d="M496,832L498.6,831.7L501,831.1L503.1,830.2L505,828.9L506.6,827.4L508.1,825.6L509.4,823.7L510.6,821.6L511.7,819.3L512.8,817L513.7,814.7L514.7,812.3L515.7,809.9L516.7,807.6L517.7,805.3L518.9,803.2L520.1,801.2L521.5,799.3L523,797.7L524.6,796.3L526.5,795.1L528.6,794.3L530.9,793.7L533.5,793.5L533.5,792.5L530.7,792.6L528.2,793.2L526,794.1L524,795.3L522.2,796.8L520.5,798.5L519.1,800.5L517.7,802.5L516.5,804.7L515.4,807L514.3,809.3L513.3,811.7L512.3,814.1L511.3,816.4L510.2,818.6L509.1,820.7L508,822.7L506.7,824.5L505.3,826.1L503.8,827.5L502.2,828.6L500.3,829.4L498.3,829.9L496,830Z"/><path fill="#6bb6ea" stroke="#6bb6ea" d="M496,832L498.1,831.9L500,831.9L501.8,831.9L503.6,831.9L505.3,831.9L506.9,831.9L508.4,831.9L509.9,831.8L511.3,831.8L512.7,831.8L514.1,831.8L515.5,831.8L516.8,831.7L518.1,831.7L519.5,831.7L520.9,831.7L522.3,831.6L523.7,831.6L525.2,831.6L526.7,831.6L528.3,831.6L529.9,831.6L531.7,831.6L533.5,831.5L533.5,830.5L531.7,830.4L529.9,830.4L528.3,830.4L526.7,830.4L525.2,830.4L523.7,830.4L522.3,830.4L520.9,830.3L519.5,830.3L518.1,830.3L516.8,830.3L515.5,830.2L514.1,830.2L512.7,830.2L511.3,830.2L509.9,830.2L508.4,830.1L506.9,830.1L505.3,830.1L503.6,830.1L501.8,830.1L500,830.1L498.1,830.1L496,830Z"/><path fill="#6bb6ea" stroke="#6bb6ea" d="M496,832L498.3,832.1L500.3,832.6L502.2,833.4L503.8,834.5L505.3,835.8L506.7,837.4L508,839.2L509.1,841.1L510.3,843.2L511.3,845.4L512.3,847.7L513.4,850L514.4,852.4L515.5,854.7L516.6,856.9L517.8,859.1L519.1,861.2L520.6,863L522.2,864.7L524,866.2L526,867.4L528.3,868.3L530.7,868.9L533.5,869L533.5,868L530.9,867.8L528.6,867.2L526.5,866.4L524.7,865.2L523,863.9L521.5,862.2L520.2,860.4L518.9,858.4L517.8,856.3L516.7,854.1L515.7,851.8L514.7,849.5L513.8,847.1L512.8,844.8L511.7,842.5L510.6,840.3L509.4,838.2L508.1,836.3L506.6,834.6L504.9,833.1L503.1,831.8L500.9,830.8L498.6,830.3L496,830Z"/><path fill="#6bb6ea" stroke="#6bb6ea" d="M496,832L498.4,832.3L500.4,833.2L502.3,834.8L503.8,837L505.2,839.7L506.4,842.9L507.5,846.5L508.4,850.5L509.2,854.7L509.9,859.1L510.6,863.7L511.4,868.4L512.1,873L512.9,877.6L513.8,882.1L514.9,886.4L516.2,890.4L517.7,894.1L519.4,897.5L521.5,900.4L523.9,902.7L526.7,904.5L529.9,905.7L533.5,906L533.5,905L530.1,904.6L527.2,903.5L524.6,901.9L522.4,899.6L520.4,896.8L518.8,893.6L517.4,890L516.2,886L515.2,881.8L514.3,877.3L513.5,872.8L512.8,868.1L512.2,863.5L511.5,858.9L510.8,854.4L510.1,850.1L509.2,846.1L508.1,842.4L506.9,839L505.4,836L503.6,833.6L501.5,831.7L498.9,830.5L496,830Z"/><path fill="#6bb6ea" stroke="#6bb6ea" d="M496,832L498.4,832.4L500.4,833.9L502.2,836.3L503.8,839.6L505.1,843.8L506.3,848.7L507.2,854.1L508,860.1L508.6,866.5L509.2,873.2L509.8,880.1L510.3,887.1L511,894L511.7,900.9L512.5,907.7L513.5,914.1L514.8,920.1L516.3,925.7L518.1,930.7L520.3,935L522.8,938.6L525.9,941.3L529.4,943L533.5,943.5L533.5,942.5L529.8,941.9L526.5,940.3L523.7,937.8L521.3,934.4L519.2,930.2L517.5,925.3L516,919.8L514.8,913.8L513.9,907.5L513.1,900.8L512.4,893.9L511.8,886.9L511.3,880L510.8,873.1L510.3,866.4L509.6,859.9L508.9,853.9L508,848.3L506.9,843.3L505.5,839L503.8,835.3L501.7,832.5L499.1,830.7L496,830Z"/><path fill="#6bb6ea" stroke="#6bb6ea" d="M408.5,889.4L410.9,889.9L413,891.6L414.9,894.4L416.6,898.2L418,903L419.1,908.7L420.1,915.1L420.9,922L421.6,929.4L422.2,937.1L422.8,945.1L423.4,953.2L424,961.3L424.7,969.3L425.6,977L426.7,984.5L428,991.5L429.6,997.9L431.6,1003.7L433.9,1008.7L436.6,1012.8L439.8,1015.9L443.6,1017.9L448,1018.5L448,1017.5L444,1016.8L440.5,1015L437.5,1012.1L434.9,1008.1L432.7,1003.2L430.9,997.6L429.3,991.2L428.1,984.2L427.1,976.9L426.3,969.1L425.6,961.2L425.1,953.1L424.5,945L424,937L423.5,929.2L422.9,921.8L422.1,914.8L421.2,908.3L420.1,902.5L418.7,897.5L416.9,893.3L414.7,890L411.9,887.9L408.5,887.1Z"/><path fill="#6bb6ea" stroke="#6bb6ea" d="M535,1019L537.6,1018.7L540,1018.2L542.1,1017.2L544,1016L545.7,1014.4L547.2,1012.7L548.6,1010.8L549.8,1008.7L550.9,1006.5L552,1004.2L553,1001.9L554,999.5L555,997.2L556,994.9L557.1,992.7L558.3,990.6L559.5,988.6L560.9,986.8L562.4,985.1L564.1,983.8L566,982.6L568.1,981.8L570.4,981.2L573,981L573,980L570.2,980.1L567.7,980.7L565.5,981.6L563.4,982.8L561.6,984.3L560,986L558.5,987.8L557.1,989.9L555.9,992.1L554.8,994.3L553.7,996.6L552.6,999L551.6,1001.3L550.5,1003.6L549.5,1005.8L548.3,1007.9L547.1,1009.8L545.8,1011.6L544.4,1013.2L542.9,1014.5L541.2,1015.6L539.4,1016.4L537.3,1016.9L535,1017Z"/><path fill="#6bb6ea" stroke="#6bb6ea" d="M535,1019L537.1,1018.9L539,1018.9L540.9,1018.9L542.7,1018.9L544.4,1018.9L546,1018.9L547.6,1018.9L549.1,1018.8L550.5,1018.8L551.9,1018.8L553.3,1018.8L554.7,1018.8L556.1,1018.7L557.4,1018.7L558.8,1018.7L560.2,1018.7L561.6,1018.6L563.1,1018.6L564.5,1018.6L566.1,1018.6L567.7,1018.6L569.4,1018.6L571.1,1018.6L573,1018.5L573,1017.5L571.1,1017.4L569.4,1017.4L567.7,1017.4L566.1,1017.4L564.5,1017.4L563.1,1017.4L561.6,1017.4L560.2,1017.3L558.8,1017.3L557.4,1017.3L556.1,1017.3L554.7,1017.2L553.3,1017.2L551.9,1017.2L550.5,1017.2L549.1,1017.2L547.6,1017.1L546,1017.1L544.4,1017.1L542.7,1017.1L540.9,1017.1L539,1017.1L537.1,1017.1L535,1017Z"/><path fill="#6bb6ea" stroke="#6bb6ea" d="M535,1019L537.3,1019.1L539.4,1019.6L541.2,1020.4L542.9,1021.5L544.4,1022.8L545.8,1024.4L547.1,1026.2L548.3,1028.1L549.5,1030.2L550.5,1032.4L551.6,1034.7L552.6,1037L553.7,1039.4L554.8,1041.7L555.9,1043.9L557.1,1046.1L558.5,1048.2L560,1050L561.6,1051.7L563.4,1053.2L565.5,1054.4L567.7,1055.3L570.2,1055.9L573,1056L573,1055L570.4,1054.8L568.1,1054.2L566,1053.4L564.1,1052.2L562.4,1050.9L560.9,1049.2L559.5,1047.4L558.3,1045.4L557.1,1043.3L556,1041.1L555,1038.8L554,1036.5L553,1034.1L552,1031.8L550.9,1029.5L549.8,1027.3L548.6,1025.2L547.2,1023.3L545.7,1021.6L544,1020L542.1,1018.8L540,1017.8L537.6,1017.3L535,1017Z"/><path fill="#ee8b78" stroke="#ee8b78" d="M480.2,1190.9L483.2,1190.6L485.8,1189.7L488.1,1188.2L490.1,1186.3L491.8,1184L493.2,1181.4L494.5,1178.5L495.6,1175.4L496.6,1172.1L497.5,1168.6L498.3,1165.1L499.2,1161.6L500,1158L500.9,1154.6L502,1151.2L503.1,1148L504.4,1145L505.8,1142.2L507.5,1139.7L509.4,1137.6L511.5,1135.9L514,1134.6L516.8,1133.8L520,1133.5L520,1132.5L516.6,1132.7L513.6,1133.6L510.9,1135L508.6,1136.8L506.5,1139L504.7,1141.5L503.1,1144.4L501.8,1147.5L500.5,1150.7L499.5,1154.1L498.5,1157.6L497.5,1161.2L496.6,1164.7L495.7,1168.2L494.7,1171.5L493.7,1174.7L492.6,1177.7L491.3,1180.4L490,1182.8L488.4,1184.8L486.7,1186.4L484.8,1187.6L482.7,1188.3L480.2,1188.6Z"/><path fill="#ee8b78" stroke="#ee8b78" d="M480.2,1190.9L482.6,1190.8L484.9,1190.5L487,1190L489,1189.4L490.8,1188.6L492.5,1187.7L494.1,1186.7L495.6,1185.6L497.1,1184.5L498.4,1183.3L499.8,1182.1L501.1,1180.9L502.3,1179.7L503.6,1178.5L504.9,1177.4L506.3,1176.3L507.6,1175.3L509.1,1174.3L510.6,1173.5L512.2,1172.8L514,1172.2L515.8,1171.7L517.8,1171.4L520,1171.3L520,1170.2L517.7,1170.3L515.6,1170.6L513.7,1171.1L511.8,1171.6L510.1,1172.4L508.4,1173.2L506.9,1174.1L505.4,1175.1L504,1176.2L502.6,1177.3L501.3,1178.5L499.9,1179.6L498.6,1180.8L497.2,1181.9L495.9,1183L494.5,1184L493,1185L491.5,1185.9L489.9,1186.6L488.2,1187.3L486.4,1187.8L484.5,1188.3L482.4,1188.5L480.2,1188.6Z"/><path fill="#ee8b78" stroke="#ee8b78" d="M480.2,1190.9L482.4,1191L484.5,1191.2L486.4,1191.6L488.2,1192.2L489.9,1192.8L491.5,1193.6L493,1194.5L494.5,1195.4L495.9,1196.4L497.3,1197.5L498.6,1198.6L499.9,1199.7L501.3,1200.8L502.6,1202L504,1203.1L505.4,1204.1L506.9,1205.1L508.5,1206L510.1,1206.9L511.8,1207.6L513.7,1208.2L515.6,1208.6L517.7,1208.9L520,1209L520,1207.9L517.8,1207.8L515.8,1207.5L514,1207L512.3,1206.5L510.6,1205.8L509.1,1204.9L507.7,1204L506.3,1203L504.9,1201.9L503.6,1200.8L502.3,1199.6L501.1,1198.4L499.8,1197.2L498.4,1196.1L497.1,1194.9L495.6,1193.8L494.1,1192.7L492.5,1191.7L490.8,1190.9L489,1190.1L487,1189.5L484.9,1189L482.6,1188.7L480.2,1188.6Z"/><path fill="#ee8b78" stroke="#ee8b78" d="M480.2,1190.9L482.7,1191.2L484.8,1191.9L486.7,1193L488.4,1194.6L490,1196.6L491.4,1199L492.6,1201.7L493.7,1204.6L494.7,1207.8L495.7,1211.1L496.6,1214.5L497.5,1218L498.5,1221.5L499.5,1225L500.6,1228.4L501.8,1231.6L503.2,1234.7L504.8,1237.5L506.5,1240L508.6,1242.2L510.9,1244L513.6,1245.3L516.6,1246.2L520,1246.5L520,1245.4L516.8,1245.1L514,1244.3L511.6,1243L509.4,1241.3L507.5,1239.2L505.9,1236.8L504.4,1234.1L503.1,1231.1L502,1227.9L501,1224.6L500.1,1221.1L499.2,1217.6L498.3,1214.1L497.5,1210.6L496.6,1207.2L495.6,1204L494.5,1200.9L493.2,1198L491.8,1195.5L490.1,1193.2L488.1,1191.3L485.8,1189.8L483.2,1188.9L480.2,1188.6Z"/><path fill="#7bbc95" stroke="#7bbc95" d="M456.2,1362.4L459,1362.2L461.5,1361.6L463.7,1360.6L465.7,1359.3L467.5,1357.7L469.1,1355.9L470.5,1354L471.8,1351.8L473,1349.6L474.1,1347.3L475.2,1344.9L476.2,1342.5L477.3,1340.1L478.3,1337.7L479.5,1335.5L480.7,1333.3L482,1331.3L483.4,1329.4L485,1327.7L486.8,1326.3L488.7,1325.2L490.9,1324.3L493.3,1323.7L496,1323.5L496,1322.5L493.1,1322.6L490.5,1323.2L488.2,1324.1L486.1,1325.3L484.2,1326.8L482.5,1328.6L480.9,1330.5L479.5,1332.5L478.2,1334.8L477,1337L475.8,1339.4L474.7,1341.8L473.6,1344.1L472.5,1346.5L471.3,1348.7L470.1,1350.8L468.8,1352.8L467.5,1354.6L466,1356.2L464.4,1357.5L462.7,1358.6L460.7,1359.4L458.6,1359.9L456.2,1360.1Z"/><path fill="#7bbc95" stroke="#7bbc95" d="M456.2,1362.4L458.4,1362.4L460.4,1362.4L462.4,1362.4L464.3,1362.3L466,1362.3L467.7,1362.2L469.4,1362.2L471,1362.1L472.5,1362.1L474,1362L475.4,1361.9L476.9,1361.9L478.3,1361.8L479.7,1361.7L481.1,1361.7L482.6,1361.6L484.1,1361.6L485.6,1361.5L487.2,1361.5L488.8,1361.4L490.5,1361.4L492.2,1361.4L494.1,1361.4L496,1361.3L496,1360.2L494.1,1360.2L492.2,1360.2L490.4,1360.2L488.8,1360.2L487.1,1360.2L485.6,1360.2L484.1,1360.2L482.6,1360.2L481.1,1360.2L479.7,1360.2L478.3,1360.2L476.8,1360.2L475.4,1360.2L473.9,1360.2L472.4,1360.1L470.9,1360.1L469.4,1360.1L467.7,1360.1L466,1360.1L464.3,1360.1L462.4,1360.1L460.4,1360.1L458.4,1360.1L456.2,1360.1Z"/><path fill="#7bbc95" stroke="#7bbc95" d="M456.2,1362.4L458.6,1362.6L460.7,1363.1L462.6,1363.8L464.4,1364.9L466,1366.2L467.5,1367.7L468.8,1369.4L470.1,1371.3L471.4,1373.3L472.5,1375.5L473.7,1377.7L474.8,1380L475.9,1382.3L477.1,1384.5L478.3,1386.7L479.6,1388.9L481.1,1390.8L482.6,1392.7L484.3,1394.3L486.2,1395.8L488.3,1396.9L490.6,1397.8L493.2,1398.4L496,1398.5L496,1397.5L493.3,1397.3L490.9,1396.7L488.8,1395.9L486.9,1394.8L485.1,1393.4L483.6,1391.8L482.1,1390L480.8,1388.1L479.6,1386L478.5,1383.8L477.4,1381.6L476.3,1379.3L475.3,1376.9L474.2,1374.7L473,1372.4L471.8,1370.3L470.5,1368.2L469.1,1366.3L467.5,1364.6L465.7,1363.1L463.7,1361.8L461.4,1360.9L458.9,1360.3L456.2,1360.1Z"/><path fill="#f9c74f" stroke="#f9c74f" d="M504.2,1898.9L508.1,1896.3L510.7,1890.1L512.8,1880.6L514.5,1868L515.8,1852.6L516.8,1834.7L517.6,1814.8L518.2,1793.1L518.7,1770L519.1,1745.9L519.5,1721.1L519.9,1695.9L520.3,1670.7L520.9,1645.9L521.7,1621.8L522.6,1598.7L523.9,1577.1L525.5,1557.1L527.4,1539.4L529.8,1524L532.6,1511.5L536,1502.2L539.8,1496.4L544,1494.5L544,1493.5L539,1495.6L534.9,1501.7L531.5,1511.2L528.6,1523.8L526.2,1539.2L524.2,1557L522.5,1577L521.2,1598.6L520.2,1621.7L519.4,1645.9L518.7,1670.7L518.2,1695.9L517.7,1721L517.3,1745.9L516.8,1770L516.2,1793L515.6,1814.7L514.7,1834.6L513.6,1852.4L512.3,1867.7L510.6,1880.2L508.6,1889.5L506.2,1895.1L504.2,1896.6Z"/><path fill="#f9c74f" stroke="#f9c74f" d="M632.5,1495L634.7,1494.8L636.8,1494.6L638.7,1494.1L640.5,1493.4L642.2,1492.7L643.7,1491.8L645.1,1490.8L646.5,1489.7L647.8,1488.6L649,1487.4L650.2,1486.2L651.3,1485L652.5,1483.8L653.6,1482.6L654.8,1481.5L656,1480.4L657.2,1479.4L658.5,1478.5L659.9,1477.7L661.4,1476.9L663,1476.4L664.7,1475.9L666.5,1475.6L668.5,1475.5L668.5,1474.5L666.4,1474.5L664.4,1474.8L662.6,1475.3L660.9,1475.9L659.3,1476.6L657.9,1477.5L656.5,1478.4L655.1,1479.4L653.8,1480.5L652.6,1481.6L651.4,1482.8L650.2,1484L649.1,1485.1L647.9,1486.3L646.7,1487.4L645.4,1488.4L644.1,1489.4L642.8,1490.3L641.3,1491.1L639.8,1491.7L638.2,1492.3L636.4,1492.7L634.5,1493L632.5,1493Z"/><path fill="#f9c74f" stroke="#f9c74f" d="M632.5,1495L634.5,1495L636.4,1495.3L638.2,1495.7L639.8,1496.3L641.3,1496.9L642.8,1497.7L644.1,1498.6L645.4,1499.6L646.7,1500.6L647.9,1501.7L649.1,1502.9L650.2,1504L651.4,1505.2L652.6,1506.4L653.8,1507.5L655.1,1508.6L656.5,1509.6L657.9,1510.5L659.3,1511.4L660.9,1512.1L662.6,1512.7L664.4,1513.2L666.4,1513.5L668.5,1513.5L668.5,1512.5L666.5,1512.4L664.7,1512.1L663,1511.6L661.4,1511.1L659.9,1510.3L658.5,1509.5L657.2,1508.6L656,1507.6L654.8,1506.5L653.6,1505.4L652.5,1504.2L651.3,1503L650.2,1501.8L649,1500.6L647.8,1499.4L646.5,1498.3L645.1,1497.2L643.7,1496.2L642.2,1495.3L640.5,1494.6L638.7,1493.9L636.8,1493.4L634.7,1493.2L632.5,1493Z"/><path fill="#f9c74f" stroke="#f9c74f" d="M504.2,1898.9L508,1897L510.7,1892.3L512.8,1885.3L514.5,1876L515.8,1864.6L516.8,1851.5L517.7,1836.9L518.3,1821L518.8,1804L519.2,1786.3L519.6,1768.1L520,1749.6L520.5,1731.2L521,1713L521.8,1695.3L522.8,1678.4L524,1662.5L525.6,1647.9L527.5,1634.8L529.9,1623.6L532.7,1614.4L536,1607.6L539.8,1603.5L544,1602L544,1601L539.1,1602.5L535,1607L531.6,1614L528.7,1623.3L526.3,1634.6L524.3,1647.7L522.7,1662.3L521.4,1678.3L520.3,1695.2L519.5,1712.9L518.8,1731.1L518.3,1749.6L517.8,1768.1L517.4,1786.3L516.9,1804L516.3,1820.9L515.6,1836.8L514.7,1851.4L513.6,1864.4L512.3,1875.6L510.6,1884.8L508.6,1891.5L506.3,1895.5L504.2,1896.6Z"/><path fill="#f9c74f" stroke="#f9c74f" d="M672.5,1602.5L675.1,1602.2L677.4,1601.3L679.5,1600L681.2,1598.3L682.7,1596.3L683.9,1593.9L685,1591.3L686,1588.5L686.8,1585.6L687.6,1582.5L688.4,1579.4L689.1,1576.2L689.9,1573L690.7,1569.9L691.6,1566.8L692.6,1564L693.7,1561.3L695,1558.8L696.4,1556.6L698.1,1554.7L700,1553.2L702.2,1552L704.7,1551.3L707.5,1551L707.5,1550L704.5,1550.2L701.8,1551L699.4,1552.2L697.3,1553.9L695.5,1555.9L693.9,1558.2L692.5,1560.7L691.3,1563.5L690.3,1566.4L689.3,1569.5L688.5,1572.6L687.7,1575.8L686.9,1579L686.1,1582.1L685.3,1585.1L684.4,1588L683.4,1590.7L682.3,1593.1L681.1,1595.3L679.8,1597.1L678.3,1598.6L676.6,1599.7L674.7,1600.3L672.5,1600.5Z"/><path fill="#f9c74f" stroke="#f9c74f" d="M672.5,1602.5L674.6,1602.4L676.5,1602.2L678.3,1601.8L680.1,1601.4L681.7,1600.8L683.2,1600.2L684.6,1599.5L686,1598.7L687.3,1597.9L688.5,1597.1L689.7,1596.2L690.9,1595.4L692.1,1594.5L693.2,1593.7L694.4,1592.8L695.6,1592.1L696.8,1591.3L698.1,1590.7L699.5,1590.1L700.9,1589.6L702.4,1589.1L704,1588.8L705.7,1588.6L707.5,1588.5L707.5,1587.5L705.6,1587.5L703.8,1587.7L702.1,1588L700.5,1588.4L699,1589L697.6,1589.6L696.2,1590.2L694.9,1590.9L693.7,1591.7L692.4,1592.5L691.2,1593.3L690,1594.1L688.8,1595L687.6,1595.8L686.4,1596.5L685.1,1597.3L683.8,1598L682.5,1598.6L681,1599.1L679.5,1599.6L678,1600L676.3,1600.3L674.4,1600.5L672.5,1600.5Z"/><path fill="#f9c74f" stroke="#f9c74f" d="M672.5,1602.5L674.7,1602.7L676.6,1603.4L678.3,1604.5L679.8,1605.9L681.1,1607.8L682.3,1610L683.4,1612.5L684.3,1615.2L685.2,1618.2L686,1621.3L686.8,1624.4L687.6,1627.7L688.4,1630.9L689.3,1634.1L690.2,1637.3L691.3,1640.2L692.5,1643.1L693.8,1645.7L695.4,1648L697.2,1650.1L699.3,1651.7L701.7,1653L704.5,1653.8L707.5,1654L707.5,1653L704.7,1652.7L702.2,1652L700,1650.8L698.1,1649.2L696.4,1647.3L694.9,1645.1L693.6,1642.5L692.5,1639.8L691.5,1636.8L690.6,1633.8L689.8,1630.6L689.1,1627.3L688.3,1624.1L687.6,1620.9L686.8,1617.7L686,1614.7L685,1611.9L683.9,1609.2L682.7,1606.9L681.2,1604.8L679.5,1603L677.5,1601.7L675.1,1600.8L672.5,1600.5Z"/><path fill="#f9c74f" stroke="#f9c74f" d="M504.2,1898.9L507.8,1897.8L510.6,1895L512.7,1890.7L514.5,1885.2L515.8,1878.5L516.9,1870.7L517.8,1862.1L518.5,1852.8L519,1842.8L519.5,1832.4L520,1821.7L520.4,1810.9L520.9,1800.1L521.6,1789.4L522.4,1779L523.4,1769.1L524.6,1759.8L526.2,1751.3L528.1,1743.7L530.3,1737.1L533,1731.8L536.2,1727.8L539.8,1725.4L544,1724.5L544,1723.5L539.4,1724.4L535.4,1727L532.1,1731.2L529.2,1736.6L526.9,1743.3L524.9,1751L523.3,1759.6L522,1769L520.9,1778.9L520,1789.3L519.3,1800L518.7,1810.8L518.2,1821.7L517.7,1832.3L517.1,1842.7L516.5,1852.6L515.8,1861.9L514.8,1870.5L513.7,1878.1L512.3,1884.6L510.6,1889.9L508.7,1893.7L506.5,1895.9L504.2,1896.6Z"/><path fill="#f9c74f" stroke="#f9c74f" d="M710,1725L712.5,1724.8L714.7,1724.3L716.8,1723.4L718.6,1722.4L720.3,1721L721.7,1719.5L723.1,1717.8L724.3,1716L725.4,1714.1L726.5,1712.1L727.5,1710.1L728.5,1708.1L729.5,1706.1L730.5,1704.1L731.6,1702.1L732.7,1700.3L733.9,1698.6L735.2,1697L736.7,1695.6L738.2,1694.4L740,1693.4L741.9,1692.7L744.1,1692.2L746.5,1692L746.5,1691L743.9,1691.1L741.6,1691.6L739.5,1692.4L737.6,1693.4L735.9,1694.7L734.3,1696.2L732.9,1697.8L731.6,1699.6L730.4,1701.4L729.3,1703.4L728.2,1705.4L727.1,1707.4L726.1,1709.4L725.1,1711.4L724,1713.3L722.9,1715.1L721.7,1716.8L720.4,1718.3L719,1719.7L717.6,1720.8L715.9,1721.8L714.2,1722.5L712.2,1722.9L710,1723Z"/><path fill="#f9c74f" stroke="#f9c74f" d="M710,1725L712.2,1725.1L714.2,1725.6L716,1726.3L717.6,1727.2L719,1728.4L720.4,1729.8L721.7,1731.4L722.8,1733.1L724,1735L725,1737L726.1,1739L727.1,1741.1L728.1,1743.2L729.2,1745.2L730.3,1747.2L731.5,1749.2L732.8,1751L734.2,1752.7L735.8,1754.2L737.5,1755.5L739.4,1756.6L741.6,1757.4L743.9,1757.9L746.5,1758L746.5,1757L744.1,1756.8L741.9,1756.3L739.9,1755.5L738.2,1754.5L736.6,1753.3L735.1,1751.9L733.8,1750.2L732.6,1748.5L731.5,1746.6L730.4,1744.6L729.4,1742.5L728.4,1740.4L727.4,1738.3L726.4,1736.2L725.4,1734.2L724.3,1732.2L723.1,1730.4L721.7,1728.7L720.3,1727.1L718.6,1725.7L716.8,1724.6L714.8,1723.8L712.5,1723.2L710,1723Z"/><path fill="#f9c74f" stroke="#f9c74f" d="M504.2,1898.9L506.4,1898.9L508.4,1898.9L510.4,1898.9L512.3,1898.8L514,1898.8L515.7,1898.8L517.4,1898.7L518.9,1898.7L520.5,1898.6L522,1898.6L523.4,1898.5L524.9,1898.5L526.3,1898.4L527.7,1898.4L529.1,1898.3L530.6,1898.3L532.1,1898.2L533.6,1898.2L535.2,1898.1L536.8,1898.1L538.5,1898.1L540.2,1898.1L542.1,1898.1L544,1898L544,1897L542.1,1896.9L540.2,1896.9L538.5,1896.9L536.8,1896.9L535.1,1896.9L533.6,1896.9L532.1,1896.9L530.6,1896.9L529.1,1896.8L527.7,1896.8L526.3,1896.8L524.8,1896.8L523.4,1896.8L521.9,1896.7L520.5,1896.7L518.9,1896.7L517.4,1896.7L515.7,1896.7L514,1896.6L512.3,1896.6L510.4,1896.6L508.4,1896.6L506.4,1896.6L504.2,1896.6Z"/><path fill="#f9c74f" stroke="#f9c74f" d="M690,1898.5L693,1897.9L695.6,1896.2L697.6,1893.6L699.3,1890.3L700.6,1886.3L701.7,1881.7L702.6,1876.6L703.4,1871L704,1865.2L704.5,1859L705,1852.7L705.6,1846.3L706.1,1839.9L706.8,1833.6L707.6,1827.5L708.5,1821.7L709.7,1816.2L711.1,1811.2L712.8,1806.7L714.7,1802.9L717.1,1799.8L719.8,1797.5L722.9,1796L726.5,1795.5L726.5,1794.5L722.6,1795L719.2,1796.5L716.2,1799L713.8,1802.3L711.7,1806.3L709.9,1810.8L708.4,1815.9L707.2,1821.5L706.2,1827.3L705.4,1833.5L704.7,1839.8L704.1,1846.2L703.5,1852.6L702.9,1858.9L702.3,1865L701.7,1870.8L700.9,1876.3L700,1881.3L698.9,1885.8L697.6,1889.6L696,1892.6L694.3,1894.8L692.3,1896.1L690,1896.5Z"/><path fill="#f9c74f" stroke="#f9c74f" d="M690,1898.5L692.5,1898.3L694.8,1897.7L696.9,1896.7L698.7,1895.5L700.3,1894L701.8,1892.3L703.1,1890.5L704.3,1888.4L705.3,1886.3L706.3,1884.1L707.3,1881.8L708.3,1879.5L709.2,1877.3L710.2,1875L711.2,1872.9L712.3,1870.8L713.5,1868.9L714.8,1867.1L716.3,1865.5L717.9,1864.2L719.7,1863.1L721.7,1862.3L724,1861.7L726.5,1861.5L726.5,1860.5L723.8,1860.6L721.4,1861.2L719.2,1862.1L717.3,1863.2L715.5,1864.7L713.9,1866.3L712.5,1868.1L711.2,1870.1L710,1872.2L708.9,1874.4L707.9,1876.7L706.9,1879L705.9,1881.2L704.9,1883.4L703.9,1885.6L702.8,1887.6L701.6,1889.5L700.4,1891.3L699.1,1892.8L697.6,1894.1L696,1895.1L694.2,1895.9L692.2,1896.4L690,1896.5Z"/><path fill="#f9c74f" stroke="#f9c74f" d="M690,1898.5L692.2,1898.6L694.1,1899L695.9,1899.6L697.5,1900.4L699,1901.5L700.4,1902.7L701.7,1904L702.9,1905.5L704.1,1907.1L705.2,1908.8L706.3,1910.6L707.4,1912.4L708.5,1914.2L709.6,1916L710.7,1917.7L712,1919.4L713.3,1921L714.7,1922.4L716.3,1923.7L717.9,1924.9L719.8,1925.8L721.8,1926.5L724.1,1926.9L726.5,1927L726.5,1926L724.2,1925.8L722.1,1925.4L720.2,1924.7L718.5,1923.9L717,1922.8L715.6,1921.5L714.2,1920.1L713,1918.6L711.9,1916.9L710.8,1915.2L709.7,1913.4L708.7,1911.6L707.6,1909.8L706.6,1908L705.5,1906.2L704.3,1904.5L703,1902.9L701.7,1901.4L700.1,1900L698.5,1898.9L696.7,1897.9L694.6,1897.2L692.4,1896.7L690,1896.5Z"/><path fill="#f9c74f" stroke="#f9c74f" d="M1478,1927.5L1480.3,1927.4L1482.5,1927.1L1484.5,1926.6L1486.3,1926L1488.1,1925.3L1489.7,1924.5L1491.2,1923.5L1492.7,1922.5L1494,1921.4L1495.4,1920.3L1496.6,1919.2L1497.9,1918.1L1499.1,1916.9L1500.3,1915.8L1501.6,1914.7L1502.9,1913.7L1504.2,1912.7L1505.6,1911.8L1507,1911.1L1508.6,1910.4L1510.3,1909.8L1512,1909.4L1513.9,1909.1L1516,1909L1516,1908L1513.8,1908L1511.8,1908.3L1509.9,1908.7L1508.2,1909.3L1506.5,1910L1505,1910.8L1503.5,1911.7L1502.1,1912.6L1500.7,1913.7L1499.4,1914.7L1498.1,1915.8L1496.9,1916.9L1495.6,1918L1494.3,1919.1L1493,1920.2L1491.7,1921.1L1490.3,1922.1L1488.8,1922.9L1487.3,1923.7L1485.7,1924.3L1484,1924.8L1482.1,1925.2L1480.1,1925.5L1478,1925.5Z"/><path fill="#f9c74f" stroke="#f9c74f" d="M690,1898.5L692.3,1898.8L694.3,1899.6L696.1,1901L697.6,1903L699,1905.4L700.2,1908.3L701.2,1911.5L702.1,1915.1L703,1918.9L703.7,1922.8L704.4,1926.9L705.2,1931.1L705.9,1935.3L706.7,1939.4L707.7,1943.5L708.7,1947.3L709.9,1950.9L711.4,1954.3L713.1,1957.3L715.1,1959.9L717.4,1962.1L720,1963.7L723.1,1964.7L726.5,1965L726.5,1964L723.3,1963.6L720.5,1962.7L718,1961.2L715.9,1959.2L714.1,1956.7L712.5,1953.8L711.1,1950.5L710,1946.9L709,1943.1L708.1,1939.2L707.3,1935L706.6,1930.9L706,1926.7L705.3,1922.6L704.6,1918.5L703.8,1914.7L702.9,1911L701.9,1907.7L700.6,1904.6L699.2,1902L697.4,1899.7L695.3,1898L692.8,1896.9L690,1896.5Z"/><path fill="#f9c74f" stroke="#f9c74f" d="M690,1898.5L692.3,1898.9L694.3,1900.2L696,1902.5L697.6,1905.6L698.9,1909.5L700,1914L700.9,1919.1L701.7,1924.7L702.3,1930.6L702.9,1936.9L703.5,1943.3L704,1949.8L704.6,1956.3L705.3,1962.8L706.2,1969L707.2,1975L708.4,1980.7L709.9,1985.9L711.6,1990.5L713.7,1994.6L716.2,1997.9L719.1,2000.4L722.6,2002L726.5,2002.5L726.5,2001.5L722.9,2000.9L719.8,1999.5L717,1997.1L714.7,1994L712.7,1990L711,1985.5L709.6,1980.4L708.5,1974.8L707.5,1968.8L706.7,1962.6L706.1,1956.2L705.5,1949.7L705,1943.2L704.5,1936.7L704,1930.5L703.3,1924.5L702.6,1918.9L701.7,1913.7L700.6,1909L699.3,1904.9L697.6,1901.5L695.6,1898.9L693,1897.2L690,1896.5Z"/><path fill="#f9c74f" stroke="#f9c74f" d="M504.2,1898.9L506.4,1899.8L508.6,1903L510.6,1908.5L512.3,1915.9L513.7,1925.1L514.8,1935.8L515.6,1947.7L516.4,1960.7L516.9,1974.6L517.4,1989.1L517.9,2004L518.4,2019.2L519,2034.3L519.6,2049.2L520.5,2063.7L521.5,2077.6L522.8,2090.7L524.5,2102.7L526.5,2113.4L528.9,2122.7L531.7,2130.3L535.2,2136.1L539.2,2139.7L544,2141.1L544,2139.9L539.8,2138.8L536,2135.4L532.8,2129.8L530,2122.3L527.7,2113.2L525.7,2102.5L524.2,2090.5L522.9,2077.5L522,2063.6L521.2,2049.2L520.6,2034.2L520.1,2019.1L519.7,2004L519.3,1989L518.9,1974.5L518.3,1960.6L517.7,1947.6L516.9,1935.6L515.8,1924.8L514.5,1915.5L512.8,1907.9L510.7,1902L507.9,1898.1L504.2,1896.6Z"/><path fill="#f9c74f" stroke="#f9c74f" d="M827.5,2141.4L830.3,2141L832.8,2139.8L834.9,2138L836.6,2135.6L838,2132.7L839.2,2129.4L840.2,2125.7L841,2121.7L841.7,2117.5L842.4,2113.2L843,2108.7L843.6,2104.1L844.3,2099.6L845,2095.1L845.9,2090.7L846.8,2086.6L848,2082.7L849.3,2079.2L850.9,2076L852.8,2073.3L854.9,2071.1L857.4,2069.4L860.2,2068.4L863.5,2068.1L863.5,2066.9L860,2067.3L856.9,2068.4L854.2,2070.2L851.9,2072.5L849.9,2075.4L848.2,2078.7L846.8,2082.3L845.6,2086.3L844.5,2090.5L843.6,2094.8L842.9,2099.3L842.2,2103.9L841.5,2108.4L840.8,2112.9L840.1,2117.3L839.3,2121.4L838.5,2125.3L837.5,2128.8L836.3,2132L835,2134.6L833.5,2136.7L831.7,2138.3L829.8,2139.2L827.5,2139.6Z"/><path fill="#f9c74f" stroke="#f9c74f" d="M827.5,2141.4L830,2141.3L832.3,2140.7L834.3,2139.8L836.1,2138.6L837.7,2137.2L839.1,2135.5L840.4,2133.7L841.6,2131.7L842.6,2129.6L843.6,2127.5L844.6,2125.3L845.5,2123L846.5,2120.8L847.5,2118.7L848.5,2116.5L849.6,2114.5L850.8,2112.7L852.1,2110.9L853.5,2109.4L855.1,2108.1L856.9,2107L858.8,2106.2L861,2105.7L863.5,2105.6L863.5,2104.4L860.9,2104.6L858.5,2105.2L856.3,2106L854.4,2107.2L852.7,2108.5L851.1,2110.1L849.7,2111.9L848.5,2113.9L847.3,2115.9L846.2,2118.1L845.2,2120.2L844.2,2122.5L843.2,2124.7L842.2,2126.8L841.2,2128.9L840.1,2130.9L839,2132.7L837.7,2134.4L836.4,2135.9L835,2137.1L833.4,2138.2L831.6,2138.9L829.7,2139.4L827.5,2139.6Z"/><path fill="#f9c74f" stroke="#f9c74f" d="M827.5,2141.4L829.7,2141.6L831.6,2142L833.3,2142.7L834.9,2143.5L836.4,2144.6L837.8,2145.9L839,2147.3L840.2,2148.9L841.3,2150.6L842.4,2152.4L843.5,2154.2L844.5,2156.1L845.6,2158L846.6,2159.9L847.8,2161.7L849,2163.5L850.3,2165.1L851.7,2166.7L853.2,2168L854.9,2169.2L856.7,2170.2L858.8,2170.9L861,2171.4L863.5,2171.6L863.5,2170.4L861.2,2170.3L859.1,2169.9L857.2,2169.2L855.5,2168.2L853.9,2167.1L852.5,2165.8L851.2,2164.3L850,2162.7L848.9,2161L847.8,2159.2L846.8,2157.3L845.8,2155.4L844.8,2153.5L843.8,2151.6L842.7,2149.7L841.6,2147.9L840.4,2146.2L839,2144.7L837.6,2143.2L835.9,2142L834.1,2141L832.1,2140.2L829.9,2139.7L827.5,2139.6Z"/><path fill="#f9c74f" stroke="#f9c74f" d="M827.5,2141.4L829.8,2141.8L831.7,2142.6L833.5,2144.1L835,2146L836.4,2148.5L837.5,2151.4L838.5,2154.7L839.4,2158.3L840.2,2162.2L841,2166.2L841.7,2170.4L842.4,2174.6L843.1,2178.9L843.9,2183.1L844.8,2187.1L845.8,2191.1L847.1,2194.7L848.5,2198.1L850.1,2201.2L852.1,2203.8L854.4,2206L857,2207.7L860.1,2208.7L863.5,2209.1L863.5,2207.9L860.3,2207.6L857.5,2206.7L855.1,2205.1L853,2203.1L851.2,2200.6L849.6,2197.6L848.2,2194.3L847.1,2190.7L846.1,2186.8L845.3,2182.8L844.5,2178.6L843.8,2174.4L843.2,2170.1L842.5,2165.9L841.8,2161.9L841.1,2157.9L840.2,2154.3L839.2,2150.8L838,2147.7L836.6,2145L834.8,2142.8L832.8,2141L830.3,2139.9L827.5,2139.6Z"/><path fill="#f9c74f" stroke="#f9c74f" d="M504.2,1898.9L506.2,1900.3L508.6,1905.3L510.6,1913.7L512.3,1925.1L513.6,1939L514.7,1955.2L515.6,1973.3L516.3,1993L516.8,2014L517.3,2035.9L517.7,2058.5L518.2,2081.4L518.7,2104.3L519.4,2126.9L520.2,2148.8L521.3,2169.8L522.6,2189.5L524.2,2207.7L526.2,2223.9L528.6,2237.9L531.5,2249.4L535,2258L539.1,2263.6L544,2265.6L544,2264.4L539.8,2262.7L536,2257.5L532.6,2249L529.8,2237.7L527.4,2223.7L525.5,2207.6L523.9,2189.4L522.7,2169.7L521.7,2148.8L520.9,2126.8L520.4,2104.3L519.9,2081.4L519.5,2058.5L519.1,2035.9L518.7,2013.9L518.2,1992.9L517.6,1973.2L516.8,1955.1L515.8,1938.8L514.5,1924.8L512.8,1913.3L510.7,1904.6L508.1,1898.9L504.2,1896.6Z"/><path fill="#f9c74f" stroke="#f9c74f" d="M652.5,2265.9L654.7,2265.8L656.7,2265.6L658.6,2265.1L660.4,2264.4L662,2263.7L663.6,2262.8L665,2261.8L666.3,2260.7L667.6,2259.6L668.8,2258.4L669.9,2257.2L671,2256L672.2,2254.8L673.3,2253.6L674.4,2252.5L675.6,2251.4L676.9,2250.4L678.1,2249.5L679.5,2248.7L681,2247.9L682.5,2247.4L684.2,2246.9L686,2246.6L688,2246.6L688,2245.4L685.9,2245.5L684,2245.8L682.2,2246.3L680.5,2246.9L678.9,2247.6L677.5,2248.5L676.1,2249.4L674.8,2250.4L673.5,2251.5L672.3,2252.6L671.1,2253.8L670,2255L668.8,2256.1L667.6,2257.3L666.4,2258.4L665.2,2259.4L663.9,2260.4L662.6,2261.3L661.2,2262.1L659.7,2262.7L658.1,2263.3L656.4,2263.7L654.5,2264L652.5,2264.1Z"/><path fill="#f9c74f" stroke="#f9c74f" d="M652.5,2265.9L654.5,2266L656.4,2266.3L658.1,2266.7L659.7,2267.2L661.2,2267.9L662.6,2268.6L663.9,2269.5L665.2,2270.5L666.5,2271.5L667.7,2272.5L668.8,2273.6L670,2274.8L671.2,2275.9L672.4,2277L673.6,2278.1L674.8,2279.2L676.1,2280.2L677.5,2281.1L679,2282L680.5,2282.7L682.2,2283.2L684,2283.7L685.9,2284L688,2284.1L688,2282.9L686,2282.9L684.2,2282.6L682.5,2282.2L681,2281.6L679.5,2280.9L678.2,2280.1L676.9,2279.2L675.7,2278.2L674.5,2277.1L673.3,2276L672.2,2274.9L671.1,2273.7L669.9,2272.5L668.8,2271.4L667.5,2270.2L666.3,2269.1L665,2268.1L663.5,2267.1L662,2266.3L660.4,2265.5L658.6,2264.9L656.7,2264.4L654.7,2264.1L652.5,2264.1Z"/><path fill="#4baecb" stroke="#4baecb" d="M408.5,2470.4L411.7,2469.9L414.5,2468.4L416.7,2466.1L418.6,2463.1L420.1,2459.6L421.4,2455.6L422.4,2451.1L423.3,2446.2L424,2441.1L424.7,2435.8L425.3,2430.3L425.9,2424.7L426.6,2419.1L427.3,2413.6L428.2,2408.3L429.3,2403.2L430.5,2398.5L432,2394.1L433.8,2390.2L435.8,2386.9L438.3,2384.2L441.1,2382.2L444.3,2380.9L448,2380.5L448,2379.3L444,2379.8L440.5,2381.2L437.5,2383.3L434.9,2386.2L432.7,2389.6L430.8,2393.6L429.2,2398.1L427.9,2402.9L426.8,2408L425.8,2413.4L425,2418.9L424.2,2424.5L423.5,2430L422.8,2435.5L422.1,2440.8L421.3,2445.9L420.4,2450.7L419.3,2455L418.1,2458.9L416.6,2462.1L415,2464.7L413.1,2466.6L411,2467.7L408.5,2468.1Z"/><path fill="#4baecb" stroke="#4baecb" d="M578.5,2380.8L580.7,2380.8L582.7,2380.5L584.6,2380L586.4,2379.4L588,2378.6L589.5,2377.8L591,2376.8L592.3,2375.8L593.5,2374.7L594.8,2373.5L595.9,2372.4L597.1,2371.2L598.2,2370L599.3,2368.9L600.5,2367.8L601.7,2366.7L602.9,2365.7L604.2,2364.8L605.5,2364L607,2363.3L608.5,2362.7L610.2,2362.3L612,2362L614,2362L614,2360.8L611.9,2360.9L610,2361.2L608.2,2361.7L606.5,2362.2L605,2362.9L603.5,2363.8L602.1,2364.7L600.8,2365.7L599.6,2366.8L598.4,2367.9L597.2,2369L596,2370.1L594.8,2371.3L593.7,2372.4L592.5,2373.4L591.2,2374.4L589.9,2375.4L588.6,2376.3L587.2,2377L585.7,2377.7L584.1,2378.2L582.4,2378.6L580.5,2378.9L578.5,2379Z"/><path fill="#4baecb" stroke="#4baecb" d="M578.5,2380.8L580.5,2380.9L582.4,2381.2L584.1,2381.6L585.7,2382.2L587.2,2382.8L588.6,2383.6L589.9,2384.5L591.2,2385.5L592.4,2386.5L593.6,2387.7L594.8,2388.8L596,2390L597.1,2391.1L598.3,2392.3L599.5,2393.5L600.8,2394.5L602.1,2395.6L603.5,2396.5L604.9,2397.4L606.5,2398.1L608.2,2398.7L610,2399.2L611.9,2399.5L614,2399.6L614,2398.4L612,2398.4L610.2,2398.1L608.5,2397.6L607,2397.1L605.5,2396.3L604.1,2395.5L602.8,2394.6L601.6,2393.6L600.4,2392.5L599.3,2391.3L598.2,2390.1L597,2388.9L595.9,2387.7L594.8,2386.5L593.6,2385.3L592.3,2384.2L591,2383.1L589.6,2382.1L588,2381.2L586.4,2380.5L584.6,2379.8L582.7,2379.4L580.7,2379.1L578.5,2379Z"/><path fill="#4baecb" stroke="#4baecb" d="M408.5,2470.4L410.9,2470.3L413.1,2470L415.2,2469.6L417.2,2469L419,2468.2L420.7,2467.4L422.3,2466.4L423.8,2465.4L425.2,2464.3L426.6,2463.2L427.9,2462L429.2,2460.9L430.5,2459.7L431.8,2458.6L433.1,2457.5L434.4,2456.5L435.8,2455.5L437.2,2454.6L438.7,2453.8L440.3,2453.1L442.1,2452.5L443.9,2452.1L445.9,2451.8L448,2451.8L448,2450.6L445.8,2450.7L443.7,2451L441.8,2451.4L439.9,2452L438.2,2452.7L436.6,2453.5L435.1,2454.3L433.6,2455.3L432.2,2456.3L430.8,2457.4L429.4,2458.5L428.1,2459.6L426.8,2460.7L425.4,2461.7L424.1,2462.8L422.7,2463.8L421.2,2464.7L419.7,2465.5L418.1,2466.2L416.5,2466.9L414.7,2467.4L412.8,2467.8L410.7,2468L408.5,2468.1Z"/><path fill="#4baecb" stroke="#4baecb" d="M496,2452.1L498.1,2452.2L500.1,2452.4L501.9,2452.7L503.7,2453L505.3,2453.5L506.8,2454L508.3,2454.6L509.8,2455.3L511.2,2456L512.5,2456.7L513.8,2457.5L515.2,2458.2L516.5,2459L517.8,2459.8L519.1,2460.5L520.5,2461.3L521.9,2461.9L523.4,2462.6L525,2463.1L526.6,2463.6L528.3,2464L530.1,2464.3L532,2464.5L534,2464.6L534,2463.4L532,2463.4L530.2,2463.2L528.5,2462.9L526.9,2462.5L525.3,2462L523.9,2461.4L522.5,2460.8L521.1,2460.1L519.8,2459.4L518.5,2458.6L517.2,2457.8L515.9,2457L514.6,2456.1L513.3,2455.3L511.9,2454.5L510.5,2453.8L509,2453L507.5,2452.4L505.8,2451.8L504.1,2451.3L502.3,2450.8L500.3,2450.5L498.2,2450.3L496,2450.2Z"/><path fill="#4baecb" stroke="#4baecb" d="M408.5,2470.4L411,2470.8L413.1,2471.8L415,2473.6L416.6,2476L418.1,2479.1L419.4,2482.7L420.4,2486.8L421.4,2491.3L422.2,2496.1L423,2501.1L423.7,2506.2L424.4,2511.5L425.2,2516.7L426,2521.9L427,2527L428.1,2531.8L429.5,2536.4L431,2540.6L432.9,2544.4L435.1,2547.6L437.7,2550.3L440.6,2552.3L444.1,2553.6L448,2554.1L448,2552.9L444.3,2552.5L441.2,2551.3L438.4,2549.4L436,2546.9L434,2543.8L432.2,2540.1L430.7,2536L429.5,2531.5L428.4,2526.7L427.6,2521.7L426.8,2516.5L426.1,2511.3L425.4,2506L424.8,2500.8L424.1,2495.8L423.3,2490.9L422.4,2486.3L421.4,2482.1L420.1,2478.3L418.6,2475L416.7,2472.2L414.4,2470L411.7,2468.6L408.5,2468.1Z"/><path fill="#4baecb" stroke="#4baecb" d="M612.5,2554.4L615.3,2554.2L617.8,2553.4L619.9,2552.1L621.8,2550.3L623.4,2548.3L624.8,2545.9L626.1,2543.3L627.1,2540.5L628.1,2537.6L629,2534.5L629.9,2531.3L630.7,2528.1L631.6,2525L632.5,2521.8L633.5,2518.8L634.6,2515.9L635.8,2513.2L637.2,2510.7L638.8,2508.5L640.6,2506.6L642.6,2505.1L644.9,2503.9L647.5,2503.2L650.5,2503L650.5,2501.8L647.3,2502.1L644.5,2502.9L642,2504.1L639.8,2505.8L637.9,2507.8L636.2,2510.1L634.7,2512.6L633.4,2515.4L632.2,2518.3L631.1,2521.4L630.2,2524.6L629.3,2527.8L628.4,2530.9L627.5,2534.1L626.5,2537.1L625.5,2540L624.5,2542.7L623.3,2545.1L621.9,2547.3L620.5,2549.1L618.8,2550.6L617,2551.6L614.9,2552.3L612.5,2552.6Z"/><path fill="#4baecb" stroke="#4baecb" d="M612.5,2554.4L614.7,2554.4L616.8,2554.2L618.8,2553.8L620.7,2553.4L622.4,2552.8L624,2552.2L625.6,2551.4L627.1,2550.7L628.5,2549.8L629.8,2549L631.1,2548.1L632.4,2547.2L633.7,2546.3L635,2545.5L636.3,2544.6L637.6,2543.8L638.9,2543.1L640.3,2542.4L641.8,2541.8L643.3,2541.3L645,2540.8L646.7,2540.5L648.5,2540.3L650.5,2540.2L650.5,2539.1L648.5,2539.2L646.5,2539.4L644.7,2539.7L643,2540.2L641.4,2540.7L639.8,2541.3L638.4,2542L636.9,2542.7L635.6,2543.5L634.2,2544.3L632.9,2545.1L631.6,2546L630.3,2546.8L629,2547.6L627.6,2548.4L626.3,2549.2L624.8,2549.9L623.3,2550.5L621.8,2551.1L620.2,2551.6L618.4,2552L616.6,2552.3L614.6,2552.5L612.5,2552.6Z"/><path fill="#4baecb" stroke="#4baecb" d="M612.5,2554.4L614.7,2554.6L616.7,2554.9L618.6,2555.4L620.3,2556.1L621.9,2556.9L623.4,2557.9L624.8,2559L626.1,2560.2L627.4,2561.5L628.6,2562.9L629.8,2564.3L631,2565.7L632.3,2567.2L633.5,2568.6L634.8,2570L636.1,2571.4L637.5,2572.6L638.9,2573.8L640.5,2574.9L642.2,2575.8L644.1,2576.5L646,2577.1L648.2,2577.4L650.5,2577.6L650.5,2576.4L648.3,2576.3L646.3,2576L644.4,2575.5L642.7,2574.7L641.1,2573.9L639.7,2572.8L638.3,2571.7L637,2570.4L635.8,2569.1L634.6,2567.7L633.4,2566.3L632.2,2564.8L631,2563.3L629.8,2561.8L628.6,2560.4L627.3,2559L625.9,2557.7L624.4,2556.5L622.8,2555.4L621.1,2554.4L619.2,2553.6L617.1,2553L614.9,2552.7L612.5,2552.6Z"/><path fill="#ee86ab" stroke="#ee86ab" d="M408.5,2745.4L411.5,2745.1L414.1,2744.1L416.4,2742.7L418.4,2740.7L420,2738.4L421.4,2735.8L422.7,2732.9L423.8,2729.7L424.7,2726.4L425.6,2722.9L426.4,2719.4L427.3,2715.8L428.1,2712.3L429,2708.7L430,2705.3L431.1,2702.1L432.4,2699.1L433.8,2696.3L435.5,2693.8L437.4,2691.7L439.5,2689.9L442,2688.6L444.8,2687.8L448,2687.6L448,2686.4L444.6,2686.7L441.6,2687.6L438.9,2689L436.6,2690.8L434.5,2693L432.7,2695.6L431.2,2698.5L429.8,2701.6L428.6,2704.9L427.5,2708.3L426.5,2711.9L425.6,2715.4L424.7,2719L423.8,2722.5L422.9,2725.9L421.9,2729.1L420.8,2732.1L419.5,2734.8L418.2,2737.3L416.7,2739.3L415,2740.9L413.1,2742.1L411,2742.8L408.5,2743.1Z"/><path fill="#ee86ab" stroke="#ee86ab" d="M535,2687.9L537.5,2687.8L539.8,2687.3L541.9,2686.4L543.8,2685.3L545.5,2684L547,2682.4L548.4,2680.7L549.7,2678.9L550.8,2677L551.9,2675L553,2672.9L554,2670.8L555,2668.8L556.1,2666.8L557.2,2664.8L558.3,2662.9L559.6,2661.2L560.9,2659.6L562.4,2658.2L564,2656.9L565.8,2655.9L567.8,2655.2L570,2654.7L572.5,2654.6L572.5,2653.4L569.9,2653.6L567.5,2654.1L565.4,2654.9L563.4,2656L561.7,2657.2L560.1,2658.7L558.6,2660.4L557.3,2662.2L556,2664.1L554.9,2666.1L553.7,2668.1L552.7,2670.2L551.6,2672.2L550.5,2674.2L549.4,2676.1L548.2,2678L547,2679.7L545.7,2681.2L544.3,2682.6L542.8,2683.8L541.1,2684.7L539.3,2685.4L537.3,2685.9L535,2686.1Z"/><path fill="#ee86ab" stroke="#ee86ab" d="M535,2687.9L537.3,2688.1L539.3,2688.6L541.1,2689.3L542.8,2690.2L544.3,2691.4L545.7,2692.8L547,2694.4L548.2,2696.1L549.4,2698L550.5,2700L551.6,2702L552.6,2704.1L553.7,2706.2L554.8,2708.2L556,2710.2L557.2,2712.2L558.5,2714L560,2715.7L561.6,2717.2L563.4,2718.5L565.3,2719.6L567.5,2720.4L569.9,2720.9L572.5,2721.1L572.5,2719.9L570,2719.8L567.8,2719.3L565.8,2718.5L564,2717.5L562.4,2716.3L560.9,2714.8L559.5,2713.2L558.3,2711.5L557.1,2709.6L556,2707.6L555,2705.5L554,2703.4L552.9,2701.3L551.9,2699.2L550.8,2697.2L549.7,2695.2L548.4,2693.4L547,2691.6L545.5,2690.1L543.8,2688.7L541.9,2687.6L539.9,2686.8L537.5,2686.2L535,2686.1Z"/><path fill="#ee86ab" stroke="#ee86ab" d="M408.5,2745.4L410.7,2745.5L412.7,2745.6L414.6,2745.9L416.4,2746.3L418.1,2746.8L419.7,2747.3L421.3,2747.9L422.8,2748.6L424.2,2749.3L425.6,2750L427,2750.8L428.4,2751.6L429.7,2752.4L431.1,2753.2L432.5,2754L434,2754.7L435.5,2755.4L437,2756L438.6,2756.6L440.3,2757.1L442.1,2757.5L443.9,2757.8L445.9,2758L448,2758.1L448,2756.9L446,2756.9L444.1,2756.7L442.3,2756.4L440.6,2755.9L439,2755.4L437.5,2754.8L436,2754.2L434.6,2753.4L433.3,2752.7L431.9,2751.8L430.6,2751L429.3,2750.1L427.9,2749.3L426.5,2748.4L425.1,2747.6L423.6,2746.8L422.1,2746L420.5,2745.3L418.8,2744.7L417,2744.2L415,2743.7L413,2743.4L410.8,2743.2L408.5,2743.1Z"/><path fill="#ee86ab" stroke="#ee86ab" d="M408.5,2745.4L410.9,2745.6L413.1,2746.3L415,2747.3L416.7,2748.8L418.2,2750.6L419.6,2752.7L420.9,2755.1L422,2757.8L423.1,2760.6L424.1,2763.6L425,2766.7L426,2769.9L427,2773L428,2776.2L429.1,2779.2L430.4,2782.1L431.7,2784.9L433.3,2787.4L435.1,2789.7L437.1,2791.7L439.3,2793.3L441.9,2794.5L444.8,2795.3L448,2795.6L448,2794.4L445,2794.2L442.3,2793.5L439.9,2792.3L437.8,2790.8L436,2788.9L434.4,2786.7L432.9,2784.2L431.7,2781.6L430.5,2778.7L429.5,2775.7L428.5,2772.6L427.6,2769.4L426.7,2766.2L425.8,2763.1L424.9,2760L423.9,2757L422.7,2754.3L421.4,2751.7L420,2749.3L418.3,2747.2L416.3,2745.5L414,2744.2L411.4,2743.4L408.5,2743.1Z"/><path fill="#ee86ab" stroke="#ee86ab" d="M408.5,2745.4L411,2745.8L413.1,2746.9L415,2748.7L416.6,2751.3L418.1,2754.5L419.3,2758.3L420.4,2762.6L421.3,2767.3L422.1,2772.3L422.9,2777.6L423.6,2783L424.3,2788.5L425,2794L425.9,2799.4L426.8,2804.7L427.9,2809.8L429.3,2814.6L430.9,2819L432.7,2822.9L434.9,2826.3L437.5,2829.1L440.5,2831.3L444,2832.6L448,2833.1L448,2831.9L444.3,2831.5L441.1,2830.3L438.3,2828.3L435.9,2825.6L433.8,2822.3L432,2818.5L430.6,2814.2L429.3,2809.5L428.3,2804.4L427.4,2799.2L426.6,2793.8L426,2788.3L425.3,2782.8L424.7,2777.3L424,2772L423.3,2767L422.4,2762.2L421.4,2757.8L420.1,2753.8L418.6,2750.3L416.7,2747.3L414.5,2745.1L411.7,2743.6L408.5,2743.1Z"/><path fill="#a9c957" stroke="#a9c957" d="M432.2,2912.9L434.4,2912.9L436.4,2912.9L438.4,2912.9L440.3,2912.8L442,2912.8L443.7,2912.8L445.4,2912.7L446.9,2912.7L448.5,2912.6L450,2912.6L451.4,2912.5L452.9,2912.5L454.3,2912.4L455.7,2912.4L457.1,2912.3L458.6,2912.3L460.1,2912.2L461.6,2912.2L463.2,2912.1L464.8,2912.1L466.5,2912.1L468.2,2912.1L470.1,2912.1L472,2912.1L472,2910.9L470.1,2910.9L468.2,2910.9L466.5,2910.9L464.8,2910.9L463.1,2910.9L461.6,2910.9L460.1,2910.9L458.6,2910.9L457.1,2910.8L455.7,2910.8L454.3,2910.8L452.8,2910.8L451.4,2910.8L449.9,2910.7L448.5,2910.7L446.9,2910.7L445.4,2910.7L443.7,2910.7L442,2910.6L440.3,2910.6L438.4,2910.6L436.4,2910.6L434.4,2910.6L432.2,2910.6Z"/><path fill="#d9bd8b" stroke="#d9bd8b" d="M456.2,3023.9L458.9,3023.7L461.3,3023.2L463.6,3022.3L465.6,3021.2L467.4,3019.9L469,3018.3L470.5,3016.6L471.8,3014.7L473.1,3012.7L474.3,3010.7L475.4,3008.6L476.5,3006.5L477.6,3004.4L478.7,3002.4L479.9,3000.4L481.1,2998.5L482.5,2996.8L483.9,2995.2L485.5,2993.7L487.2,2992.5L489,2991.5L491.1,2990.7L493.4,2990.2L496,2990.1L496,2988.9L493.3,2989.1L490.8,2989.6L488.6,2990.4L486.5,2991.5L484.7,2992.7L483,2994.2L481.4,2995.9L480,2997.7L478.7,2999.6L477.4,3001.6L476.2,3003.7L475,3005.7L473.8,3007.8L472.7,3009.8L471.5,3011.7L470.2,3013.6L468.9,3015.3L467.5,3016.8L466,3018.2L464.4,3019.4L462.6,3020.3L460.7,3021L458.6,3021.4L456.2,3021.6Z"/><path fill="#d9bd8b" stroke="#d9bd8b" d="M456.2,3023.9L458.6,3024L460.7,3024.5L462.6,3025.1L464.4,3026L466,3027.2L467.5,3028.5L468.9,3029.9L470.2,3031.6L471.5,3033.3L472.7,3035.2L473.9,3037.1L475.1,3039.1L476.3,3041L477.5,3043L478.8,3044.9L480.1,3046.7L481.6,3048.4L483.1,3050L484.8,3051.4L486.7,3052.7L488.7,3053.7L490.9,3054.4L493.3,3054.9L496,3055.1L496,3053.9L493.5,3053.8L491.2,3053.3L489.2,3052.6L487.3,3051.6L485.6,3050.5L484,3049.1L482.6,3047.5L481.3,3045.8L480,3044L478.8,3042.1L477.7,3040.2L476.6,3038.2L475.5,3036.2L474.3,3034.2L473.1,3032.3L471.8,3030.4L470.5,3028.6L469,3027L467.3,3025.5L465.5,3024.2L463.5,3023.1L461.3,3022.3L458.9,3021.8L456.2,3021.6Z"/><path fill="#45b8ae" stroke="#45b8ae" d="M408.5,3135.4L410.7,3135.4L412.8,3135.4L414.7,3135.3L416.6,3135.3L418.4,3135.2L420.1,3135.2L421.8,3135.1L423.3,3135L424.9,3135L426.4,3134.9L427.8,3134.8L429.3,3134.7L430.7,3134.6L432.1,3134.6L433.6,3134.5L435,3134.4L436.5,3134.3L438,3134.3L439.6,3134.2L441.2,3134.1L442.9,3134.1L444.7,3134.1L446.6,3134.1L448.5,3134.1L448.5,3132.9L446.5,3133L444.7,3133L442.9,3133L441.2,3133L439.6,3133L438,3133L436.5,3133L435,3133L433.5,3133L432.1,3133L430.7,3133L429.2,3133L427.8,3133L426.3,3133L424.8,3133.1L423.3,3133.1L421.7,3133.1L420.1,3133.1L418.4,3133.1L416.6,3133.1L414.7,3133.1L412.8,3133.1L410.7,3133.1L408.5,3133.1Z"/><path fill="#e7a4dc" stroke="#e7a4dc" d="M468.4,3215.4L470.6,3215.4L472.7,3215.4L474.7,3215.3L476.5,3215.3L478.3,3215.2L480,3215.2L481.7,3215.1L483.3,3215L484.8,3215L486.3,3214.9L487.8,3214.8L489.2,3214.7L490.7,3214.6L492.1,3214.6L493.5,3214.5L495,3214.4L496.5,3214.3L498,3214.3L499.6,3214.2L501.2,3214.1L502.9,3214.1L504.7,3214.1L506.5,3214.1L508.5,3214.1L508.5,3212.9L506.5,3213L504.7,3213L502.9,3213L501.2,3213L499.6,3213L498,3213L496.5,3213L495,3213L493.5,3213L492.1,3213L490.6,3213L489.2,3213L487.7,3213L486.3,3213L484.8,3213.1L483.2,3213.1L481.6,3213.1L480,3213.1L478.3,3213.1L476.5,3213.1L474.6,3213.1L472.7,3213.1L470.6,3213.1L468.4,3213.1Z"/><path fill="#6bb6ea" stroke="#6bb6ea" d="M379.2,3319.1L381.5,3319.2L383.6,3319.6L385.5,3320.3L387.2,3321.2L388.8,3322.2L390.3,3323.5L391.7,3324.9L393.1,3326.5L394.3,3328.2L395.5,3329.9L396.7,3331.8L397.9,3333.7L399.1,3335.6L400.3,3337.4L401.6,3339.3L402.9,3341L404.3,3342.7L405.9,3344.2L407.5,3345.6L409.4,3346.8L411.4,3347.7L413.5,3348.4L415.9,3348.9L418.5,3349.1L418.5,3347.9L416,3347.8L413.8,3347.4L411.8,3346.7L410,3345.7L408.3,3344.6L406.8,3343.3L405.4,3341.8L404,3340.1L402.8,3338.4L401.6,3336.6L400.5,3334.7L399.4,3332.8L398.3,3330.9L397.1,3328.9L395.9,3327.1L394.6,3325.3L393.3,3323.6L391.8,3322L390.2,3320.5L388.4,3319.3L386.4,3318.2L384.2,3317.5L381.8,3317L379.2,3316.8Z"/></g>
<g fill="none" stroke-width="3" stroke-opacity=".12"><path stroke="#e5abd8" d="M447.5,78H553"/><path stroke="#e5abd8" d="M588.5,59H1200"/><path stroke="#e5abd8" d="M588.5,96.2H1024"/><path stroke="#e5abd8" d="M447.5,134H628"/><path stroke="#e5abd8" d="M447.5,200.5H1198.5"/><path stroke="#e5abd8" d="M447.5,237.5H1057"/><path stroke="#e5abd8" d="M447.5,274.5H703.5"/><path stroke="#e5abd8" d="M447.5,312H973"/><path stroke="#e5abd8" d="M447.5,350H688.5"/><path stroke="#e5abd8" d="M447.5,387.5H571.5"/><path stroke="#e5abd8" d="M447.5,454H1198.5"/><path stroke="#e5abd8" d="M447.5,491H1016"/><path stroke="#e5abd8" d="M447.5,528.7H773.5"/><path stroke="#e5abd8" d="M447.5,565.7H708.5"/><path stroke="#e5abd8" d="M447.5,603.2H707.5"/><path stroke="#e5abd8" d="M447.5,640.7H793.5"/><path stroke="#6bb6ea" d="M447.5,831H496.5"/><path stroke="#6bb6ea" d="M533,718H579"/><path stroke="#6bb6ea" d="M533,755.5H579"/><path stroke="#6bb6ea" d="M533,793H579"/><path stroke="#6bb6ea" d="M533,831H579"/><path stroke="#6bb6ea" d="M533,868.5H617.5"/><path stroke="#6bb6ea" d="M533,905.5H718.5"/><path stroke="#6bb6ea" d="M533,943H676.5"/><path stroke="#6bb6ea" d="M447.5,1018H535.5"/><path stroke="#6bb6ea" d="M572.5,980.5H696"/><path stroke="#6bb6ea" d="M572.5,1018H755"/><path stroke="#6bb6ea" d="M572.5,1055.5H696"/><path stroke="#ee8b78" d="M519.5,1133H620"/><path stroke="#ee8b78" d="M519.5,1170.8H663.5"/><path stroke="#ee8b78" d="M519.5,1208.4H624"/><path stroke="#ee8b78" d="M519.5,1245.9H678.5"/><path stroke="#7bbc95" d="M495.5,1323H638.5"/><path stroke="#7bbc95" d="M495.5,1360.8H878.5"/><path stroke="#7bbc95" d="M495.5,1398H833.5"/><path stroke="#f9c74f" d="M543.5,1494H633"/><path stroke="#f9c74f" d="M668,1475H1299"/><path stroke="#f9c74f" d="M668,1513H1162.5"/><path stroke="#f9c74f" d="M543.5,1601.5H673"/><path stroke="#f9c74f" d="M707,1550.5H1123.5"/><path stroke="#f9c74f" d="M707,1588H1197"/><path stroke="#f9c74f" d="M707,1653.5H1457.5"/><path stroke="#f9c74f" d="M543.5,1724H710.5"/><path stroke="#f9c74f" d="M746,1691.5H1065"/><path stroke="#f9c74f" d="M746,1757.5H1497"/><path stroke="#f9c74f" d="M543.5,1897.5H690.5"/><path stroke="#f9c74f" d="M726,1795H1455.5"/><path stroke="#f9c74f" d="M726,1861H1477"/><path stroke="#f9c74f" d="M726,1926.5H1478.5"/><path stroke="#f9c74f" d="M1515.5,1908.5H1539"/><path stroke="#f9c74f" d="M726,1964.5H1376.5"/><path stroke="#f9c74f" d="M726,2002H1435.5"/><path stroke="#f9c74f" d="M543.5,2140.5H828"/><path stroke="#f9c74f" d="M863,2067.5H1613.5"/><path stroke="#f9c74f" d="M863,2105H1415.5"/><path stroke="#f9c74f" d="M863,2171H1614.5"/><path stroke="#f9c74f" d="M863,2208.5H1162.5"/><path stroke="#f9c74f" d="M543.5,2265H653"/><path stroke="#f9c74f" d="M687.5,2246H840"/><path stroke="#f9c74f" d="M687.5,2283.5H901.5"/><path stroke="#4baecb" d="M447.5,2379.9H579"/><path stroke="#4baecb" d="M613.5,2361.4H795"/><path stroke="#4baecb" d="M613.5,2399H873.5"/><path stroke="#4baecb" d="M447.5,2451.2H496.5"/><path stroke="#4baecb" d="M533.5,2464H1283.5"/><path stroke="#4baecb" d="M447.5,2553.5H613"/><path stroke="#4baecb" d="M650,2502.4H1398"/><path stroke="#4baecb" d="M650,2539.7H1261"/><path stroke="#4baecb" d="M650,2577H930"/><path stroke="#ee86ab" d="M447.5,2687H535.5"/><path stroke="#ee86ab" d="M572,2654H949"/><path stroke="#ee86ab" d="M572,2720.5H1322.5"/><path stroke="#ee86ab" d="M447.5,2757.5H1085.5"/><path stroke="#ee86ab" d="M447.5,2795H1093.5"/><path stroke="#ee86ab" d="M447.5,2832.5H1024"/><path stroke="#a9c957" d="M471.5,2911.5H946"/><path stroke="#d9bd8b" d="M495.5,2989.5H833.5"/><path stroke="#d9bd8b" d="M495.5,3054.5H1246"/><path stroke="#45b8ae" d="M448,3133.5H1128.5"/><path stroke="#e7a4dc" d="M508,3213.5H1095.5"/><path stroke="#6bb6ea" d="M418,3348.5H1169"/></g>
<g fill="none" stroke-width="1.4"><path stroke="#e5abd8" d="M447.5,78H553"/><path stroke="#e5abd8" d="M588.5,59H1200"/><path stroke="#e5abd8" d="M588.5,96.2H1024"/><path stroke="#e5abd8" d="M447.5,134H628"/><path stroke="#e5abd8" d="M447.5,200.5H1198.5"/><path stroke="#e5abd8" d="M447.5,237.5H1057"/><path stroke="#e5abd8" d="M447.5,274.5H703.5"/><path stroke="#e5abd8" d="M447.5,312H973"/><path stroke="#e5abd8" d="M447.5,350H688.5"/><path stroke="#e5abd8" d="M447.5,387.5H571.5"/><path stroke="#e5abd8" d="M447.5,454H1198.5"/><path stroke="#e5abd8" d="M447.5,491H1016"/><path stroke="#e5abd8" d="M447.5,528.7H773.5"/><path stroke="#e5abd8" d="M447.5,565.7H708.5"/><path stroke="#e5abd8" d="M447.5,603.2H707.5"/><path stroke="#e5abd8" d="M447.5,640.7H793.5"/><path stroke="#6bb6ea" d="M447.5,831H496.5"/><path stroke="#6bb6ea" d="M533,718H579"/><path stroke="#6bb6ea" d="M533,755.5H579"/><path stroke="#6bb6ea" d="M533,793H579"/><path stroke="#6bb6ea" d="M533,831H579"/><path stroke="#6bb6ea" d="M533,868.5H617.5"/><path stroke="#6bb6ea" d="M533,905.5H718.5"/><path stroke="#6bb6ea" d="M533,943H676.5"/><path stroke="#6bb6ea" d="M447.5,1018H535.5"/><path stroke="#6bb6ea" d="M572.5,980.5H696"/><path stroke="#6bb6ea" d="M572.5,1018H755"/><path stroke="#6bb6ea" d="M572.5,1055.5H696"/><path stroke="#ee8b78" d="M519.5,1133H620"/><path stroke="#ee8b78" d="M519.5,1170.8H663.5"/><path stroke="#ee8b78" d="M519.5,1208.4H624"/><path stroke="#ee8b78" d="M519.5,1245.9H678.5"/><path stroke="#7bbc95" d="M495.5,1323H638.5"/><path stroke="#7bbc95" d="M495.5,1360.8H878.5"/><path stroke="#7bbc95" d="M495.5,1398H833.5"/><path stroke="#f9c74f" d="M543.5,1494H633"/><path stroke="#f9c74f" d="M668,1475H1299"/><path stroke="#f9c74f" d="M668,1513H1162.5"/><path stroke="#f9c74f" d="M543.5,1601.5H673"/><path stroke="#f9c74f" d="M707,1550.5H1123.5"/><path stroke="#f9c74f" d="M707,1588H1197"/><path stroke="#f9c74f" d="M707,1653.5H1457.5"/><path stroke="#f9c74f" d="M543.5,1724H710.5"/><path stroke="#f9c74f" d="M746,1691.5H1065"/><path stroke="#f9c74f" d="M746,1757.5H1497"/><path stroke="#f9c74f" d="M543.5,1897.5H690.5"/><path stroke="#f9c74f" d="M726,1795H1455.5"/><path stroke="#f9c74f" d="M726,1861H1477"/><path stroke="#f9c74f" d="M726,1926.5H1478.5"/><path stroke="#f9c74f" d="M1515.5,1908.5H1539"/><path stroke="#f9c74f" d="M726,1964.5H1376.5"/><path stroke="#f9c74f" d="M726,2002H1435.5"/><path stroke="#f9c74f" d="M543.5,2140.5H828"/><path stroke="#f9c74f" d="M863,2067.5H1613.5"/><path stroke="#f9c74f" d="M863,2105H1415.5"/><path stroke="#f9c74f" d="M863,2171H1614.5"/><path stroke="#f9c74f" d="M863,2208.5H1162.5"/><path stroke="#f9c74f" d="M543.5,2265H653"/><path stroke="#f9c74f" d="M687.5,2246H840"/><path stroke="#f9c74f" d="M687.5,2283.5H901.5"/><path stroke="#4baecb" d="M447.5,2379.9H579"/><path stroke="#4baecb" d="M613.5,2361.4H795"/><path stroke="#4baecb" d="M613.5,2399H873.5"/><path stroke="#4baecb" d="M447.5,2451.2H496.5"/><path stroke="#4baecb" d="M533.5,2464H1283.5"/><path stroke="#4baecb" d="M447.5,2553.5H613"/><path stroke="#4baecb" d="M650,2502.4H1398"/><path stroke="#4baecb" d="M650,2539.7H1261"/><path stroke="#4baecb" d="M650,2577H930"/><path stroke="#ee86ab" d="M447.5,2687H535.5"/><path stroke="#ee86ab" d="M572,2654H949"/><path stroke="#ee86ab" d="M572,2720.5H1322.5"/><path stroke="#ee86ab" d="M447.5,2757.5H1085.5"/><path stroke="#ee86ab" d="M447.5,2795H1093.5"/><path stroke="#ee86ab" d="M447.5,2832.5H1024"/><path stroke="#a9c957" d="M471.5,2911.5H946"/><path stroke="#d9bd8b" d="M495.5,2989.5H833.5"/><path stroke="#d9bd8b" d="M495.5,3054.5H1246"/><path stroke="#45b8ae" d="M448,3133.5H1128.5"/><path stroke="#e7a4dc" d="M508,3213.5H1095.5"/><path stroke="#6bb6ea" d="M418,3348.5H1169"/></g>
<g><rect x="34.5" y="1670" width="176.5" height="38.5" fill="#cfe9e9"/><rect x="34.5" y="1708.5" width="176.5" height="4" fill="#4ba6aa"/><rect x="306" y="321.5" width="102.3" height="27.5" fill="#f1ddeb"/><rect x="306" y="349" width="102.3" height="4.5" fill="#c995be"/><rect x="306" y="858.5" width="102.3" height="27.5" fill="#d6e6f8"/><rect x="306" y="886" width="102.3" height="4.5" fill="#5b9fd8"/><rect x="306" y="1160" width="174" height="27.5" fill="#f4dad3"/><rect x="306" y="1187.5" width="174" height="4.5" fill="#c9806b"/><rect x="306" y="1331.5" width="150" height="27.5" fill="#d4e9d9"/><rect x="306" y="1359" width="150" height="4.5" fill="#74ab85"/><rect x="306" y="1833" width="198" height="62.5" fill="#fdebd0"/><rect x="306" y="1895.5" width="198" height="4.5" fill="#e5af3f"/><rect x="306" y="2440" width="102.3" height="27" fill="#cfe1ee"/><rect x="306" y="2467" width="102.3" height="4.5" fill="#4291b8"/><rect x="306" y="2714.5" width="102.3" height="27.5" fill="#f8d3e0"/><rect x="306" y="2742" width="102.3" height="4.5" fill="#dc7ba1"/><rect x="306" y="2882.5" width="126" height="27" fill="#e3e9d1"/><rect x="306" y="2909.5" width="126" height="4.5" fill="#94b053"/><rect x="306" y="2993.5" width="150" height="27" fill="#f0e9db"/><rect x="306" y="3020.5" width="150" height="4.5" fill="#bfa67a"/><rect x="306" y="3105" width="102.3" height="27" fill="#cee8e5"/><rect x="306" y="3132" width="102.3" height="4.5" fill="#46a3a0"/><rect x="306" y="3184.5" width="162.2" height="27.5" fill="#f0daec"/><rect x="306" y="3212" width="162.2" height="4.5" fill="#c691c0"/><rect x="306" y="3295" width="73" height="20.7" fill="#d4e6f8"/><rect x="306" y="3315.7" width="73" height="4.5" fill="#5b9fd8"/></g>
<g><text class="r" x="37" y="1695.3">抖音运营脑图</text>
<text class="m" transform="translate(308.2,340.8) scale(1.04,1)">准备工作</text>
<text class="t" x="450.7" y="69.1">养号<tspan class="l" textLength="12.2" lengthAdjust="spacingAndGlyphs">5</tspan><tspan class="l" textLength="6.7" lengthAdjust="spacingAndGlyphs">-</tspan><tspan class="l" textLength="12.2" lengthAdjust="spacingAndGlyphs">7</tspan>天</text>
<text class="t" x="591.7" y="51.1">模拟真人行为关注、点赞、评论、转发、看直播，目的是增加初始权重</text>
<text class="t" x="591.7" y="87.4">最最重要的是：你所刷的内容必须与你的定位相关</text>
<text class="t" x="450.7" y="127.5">个人<tspan class="l" textLength="15.8" lengthAdjust="spacingAndGlyphs">ip</tspan>定位<tspan class="l" textLength="71.5" lengthAdjust="spacingAndGlyphs">+slogan</tspan></text>
<text class="t" x="450.7" y="164.2">拍摄设备：苹果<tspan class="l" textLength="12.2" lengthAdjust="spacingAndGlyphs">7</tspan>以上手机、华为拍照手机即可（<tspan class="l" textLength="48.7" lengthAdjust="spacingAndGlyphs">3000</tspan>元<tspan class="l" textLength="5.6" lengthAdjust="spacingAndGlyphs">/</tspan><tspan class="l" textLength="12.2" lengthAdjust="spacingAndGlyphs">3</tspan>台），下载无他相机、鱼</text>
<text class="t" x="450.7" y="191.3">眼相机拍摄</text>
<text class="t" x="450.7" y="227.1">拍摄工具：手机支架、打光灯、背景墙、麦克风、领夹（约<tspan class="l" textLength="36.5" lengthAdjust="spacingAndGlyphs">500</tspan>左右）</text>
<text class="t" x="450.7" y="266.1">视频素材平台：<tspan class="l" textLength="24.4" lengthAdjust="spacingAndGlyphs">80</tspan><tspan class="l" textLength="10.1" lengthAdjust="spacingAndGlyphs">s</tspan>、微博党</text>
<text class="t" x="450.7" y="304.6">购买飞瓜数据（<tspan class="l" textLength="36.5" lengthAdjust="spacingAndGlyphs">399</tspan>元<tspan class="l" textLength="5.6" lengthAdjust="spacingAndGlyphs">/</tspan>月）；西瓜指数、<tspan class="l" textLength="92.3" lengthAdjust="spacingAndGlyphs">kolranking</tspan>小程序</text>
<text class="t" x="450.7" y="340.6">绝不要买粉、买量，做必死</text>
<text class="t" x="450.7" y="378.6">内容必须原创</text>
<text class="t" x="450.7" y="418.6">视频处理工具：<tspan class="l" textLength="18" lengthAdjust="spacingAndGlyphs">pr</tspan>、<tspan class="l" textLength="86.7" lengthAdjust="spacingAndGlyphs">videoleap</tspan>（苹果）、快剪辑、爱剪辑、印象（大师级滤镜）、</text>
<text class="t" x="450.7" y="445.1"><tspan class="l" textLength="32.6" lengthAdjust="spacingAndGlyphs">vue</tspan>（抖音特效原产地）</text>
<text class="t" x="450.7" y="484.1">片头处理工具：乐秀、<tspan class="l" textLength="37.1" lengthAdjust="spacingAndGlyphs">quik</tspan>、<tspan class="l" textLength="67.5" lengthAdjust="spacingAndGlyphs">Legend</tspan>、万兴神箭手（<tspan class="l" textLength="21.4" lengthAdjust="spacingAndGlyphs">pc</tspan>端操作）</text>
<text class="t" x="450.7" y="522.5">变声器：配音变声器、<tspan class="l" textLength="120.4" lengthAdjust="spacingAndGlyphs">voicechanger</tspan></text>
<text class="t" x="450.7" y="557.4">去水印工具：水印宝、<tspan class="l" textLength="54" lengthAdjust="spacingAndGlyphs">inshot</tspan></text>
<text class="t" x="450.7" y="595.9">配乐库：抖音热门音乐排行榜</text>
<text class="t" x="450.7" y="632.8">图片设计平台：图怪兽、创客贴、<tspan class="l" textLength="40.5" lengthAdjust="spacingAndGlyphs">fotor</tspan></text>
<text class="m" transform="translate(308.2,877.8) scale(1.04,1)">内容定位</text>
<text class="t" x="450.7" y="822.1">网红</text>
<text class="t" x="536.2" y="709.6">跳舞</text>
<text class="t" x="536.2" y="746.6">唱歌</text>
<text class="t" x="536.2" y="784.1">街拍</text>
<text class="t" x="536.2" y="822.1">穿搭</text>
<text class="t" x="536.2" y="859.6">反转搞笑</text>
<text class="t" x="536.2" y="899.6">小剧场（可以组<tspan class="l" textLength="21.4" lengthAdjust="spacingAndGlyphs">cp</tspan>）</text>
<text class="t" x="536.2" y="934.1">与各行各业合作</text>
<text class="t" x="450.7" y="1009.1">创业打卡</text>
<text class="t" x="575.7" y="971.6">网红拍摄日常</text>
<text class="t" x="575.7" y="1009.1">工作人员找素材日常</text>
<text class="t" x="575.7" y="1046.6">励志、正能量</text>
<text class="m" transform="translate(308.2,1179.3) scale(1.04,1)">短视频呈现类型</text>
<text class="t" x="522.7" y="1124.5">影片<tspan class="l" textLength="11.8" lengthAdjust="spacingAndGlyphs">+</tspan>字幕</text>
<text class="t" x="522.7" y="1162.8">人声配合字说型</text>
<text class="t" x="522.7" y="1199.4">图片滑动型</text>
<text class="t" x="522.7" y="1237.6">真人出镜<tspan class="l" textLength="11.8" lengthAdjust="spacingAndGlyphs">+</tspan>字幕型</text>
<text class="m" transform="translate(308.2,1350.8) scale(1.04,1)">拍摄质量要求</text>
<text class="t" x="498.7" y="1314.6">尽可能真人出镜</text>
<text class="t" x="498.7" y="1352.1">尽可能在<tspan class="l" textLength="24.4" lengthAdjust="spacingAndGlyphs">15</tspan>秒内抓住用户眼球，提高完播率</text>
<text class="t" x="498.7" y="1390">励志、正能量可以用图文或者动画表现</text>
<text class="m" transform="translate(360.1,1854.7) scale(1.04,1)">内容生产</text>
<text class="m" transform="translate(322.3,1887.8) scale(1.04,1)">(记录美好生活)</text>
<text class="t" x="546.7" y="1484.6">选题机制</text>
<text class="t" x="671.2" y="1467.1">收集短视频，汇总后进行选题判断与制作难度评估，确定选题后设计脚本</text>
<text class="t" x="671.2" y="1504.6">没有特定的选题方向，随时根据抖音的整个动态去做调整</text>
<text class="t" x="546.7" y="1592.6">跟上热门挑战</text>
<text class="t" x="710.2" y="1541.6">访问抖音内容的入口有三个：推荐、关注、挑战</text>
<text class="t" x="710.2" y="1579.1">在抖音的搜索框下，有一个<tspan class="q">“</tspan>热搜内容<tspan class="q">”</tspan>，是官方在运营的</text>
<text class="t" x="710.2" y="1617.1">加入对官方的挑战，无论是话题还是音乐，只要是官方展示的，都有相应的系统推荐做</text>
<text class="t" x="710.2" y="1644.1">支持</text>
<text class="t" x="546.7" y="1715.1">做适合模仿的内容</text>
<text class="t" x="749.2" y="1682.6">内容要具备可模仿性、教学性、简单</text>
<text class="t" x="749.2" y="1722.6">寻找或自己注册多个种子账号，模仿发起多个内容，注意区分账号的位置（<tspan class="l" textLength="15.8" lengthAdjust="spacingAndGlyphs">ip</tspan>）、标</text>
<text class="t" x="749.2" y="1748.6">签、标题、定位</text>
<text class="t" x="546.7" y="1889.1">从产品生产内容</text>
<text class="t" x="729.2" y="1786.6">对于好玩、新颖的产品，自带话题性，没必要绕弯子，直接展示即可（如宠物用品）</text>
<text class="t" x="729.2" y="1825.1">对于产品的某个或几个独有特点，可以尝试用夸张的方法呈现，便于受众记忆（如美妆</text>
<text class="t" x="729.2" y="1851.6">产品）</text>
<text class="t" x="729.2" y="1890.1">尝试口碑，从侧面展示产品的火爆。比如消费者排队、被消费者打爆的预约电话（如美</text>
<text class="t" x="729.2" y="1918.6">食店、房产）</text>
<text class="t" x="729.2" y="1956.6">尝试脑洞大开，挖掘产品的跨行业用途（如民宿和旅游业、美女和汽车业）</text>
<text class="t" x="729.2" y="1993.6">将办公室文化、员工工作日常展现出来，励志累、正能量类的内容，展示企业文化</text>
<g class="tofu" transform="translate(602.7,2083.9)"><rect x="0.6" y="0.6" width="14" height="17"/><path d="M0.6,0.6L14.6,17.6M14.6,0.6L0.6,17.6"/></g>
<g class="tofu" transform="translate(620.7,2083.9)"><rect x="0.6" y="0.6" width="14" height="17"/><path d="M0.6,0.6L14.6,17.6M14.6,0.6L0.6,17.6"/></g>
<text class="t" x="637.3" y="2099">如何提升<tspan class="l" textLength="12.2" lengthAdjust="spacingAndGlyphs">4</tspan>个指标</text>
<text class="t" x="560" y="2131.4">(点赞、评论、转发、完播率)</text>
<text class="t" x="866.2" y="2031.1">在视频描述中，引导用户完成点赞、评论、转发或看完视频的动作，例如：结尾写到或</text>
<text class="t" x="866.2" y="2058.1">者说到<tspan class="q">“</tspan>一定要看到最后<tspan class="q">”</tspan>、<tspan class="q">“</tspan>心疼小姐姐的快点赞吧<tspan class="q">”</tspan>就是为了提高完播率</text>
<text class="t" x="866.2" y="2096.1">在视频描述中，设置互动问题，引导用户留言评论、提升评论量</text>
<text class="t" x="866.2" y="2136.1">提前准备神评论，视频发出后，让好友（不是同一个<tspan class="l" textLength="15.8" lengthAdjust="spacingAndGlyphs">ip</tspan>）让好友写在评论区，引导用户</text>
<text class="t" x="866.2" y="2163.6">围绕这个话题展开更多互动，达到提升指标</text>
<text class="t" x="866.2" y="2200.1">积极参与挑战，提高上热门的几率</text>
<text class="t" x="546.7" y="2255.6">短视频时长</text>
<text class="t" x="690.7" y="2237.1">一般展现<tspan class="l" textLength="12.2" lengthAdjust="spacingAndGlyphs">7</tspan><tspan class="l" textLength="6.7" lengthAdjust="spacingAndGlyphs">-</tspan><tspan class="l" textLength="24.4" lengthAdjust="spacingAndGlyphs">20</tspan>秒</text>
<text class="t" x="690.7" y="2274.6">剧情<tspan class="l" textLength="12.2" lengthAdjust="spacingAndGlyphs">1</tspan>分钟以内甚至多闪</text>
<text class="m" transform="translate(308.2,2459.3) scale(1.04,1)">后期制作</text>
<text class="t" x="450.7" y="2373.1"><tspan class="l" textLength="41.6" lengthAdjust="spacingAndGlyphs">Bgm</tspan>背景音乐</text>
<text class="t" x="616.7" y="2352.6">和视频内容完美结合</text>
<text class="t" x="616.7" y="2390.1">选择用户认知度比较高的音乐</text>
<text class="t" x="450.7" y="2442.2">特效</text>
<text class="t" x="536.7" y="2427.6">抖音提供快放、慢放、倒放、节选段落循环放等功能，具体玩法多样（快影、爱剪辑、</text>
<text class="t" x="536.7" y="2454.6">快影）</text>
<text class="t" x="486.7" y="2516.7">标题封面</text>
<text class="t" x="462.2" y="2544.7">(打上统一标题)</text>
<text class="t" x="653.2" y="2493.3">必须包含领域及垂直定位领域的关键词（标题对完播率、点赞、评论及转发影响巨大）</text>
<text class="t" x="653.2" y="2531.1">视频播放的过程中，标题可以跟内容结合起来玩梗，引导用户点赞评论</text>
<text class="t" x="653.2" y="2567.4">标题尽量用疑问句引导用户评论</text>
<text class="m" transform="translate(308.2,2733.8) scale(1.04,1)">发布维护</text>
<text class="t" x="450.7" y="2678.1">发布时间</text>
<text class="t" x="575.2" y="2645.6">你的精准用户什么时候多，就什么时候发。</text>
<text class="t" x="575.2" y="2682.1">工作日早上<tspan class="l" textLength="12.2" lengthAdjust="spacingAndGlyphs">9</tspan>点<tspan class="l" textLength="6.7" lengthAdjust="spacingAndGlyphs">-</tspan><tspan class="l" textLength="24.4" lengthAdjust="spacingAndGlyphs">10</tspan>点、中午<tspan class="l" textLength="24.4" lengthAdjust="spacingAndGlyphs">12</tspan>点、下午<tspan class="l" textLength="24.4" lengthAdjust="spacingAndGlyphs">18</tspan>点、晚上<tspan class="l" textLength="24.4" lengthAdjust="spacingAndGlyphs">21</tspan><tspan class="l" textLength="6.7" lengthAdjust="spacingAndGlyphs">-</tspan><tspan class="l" textLength="24.4" lengthAdjust="spacingAndGlyphs">23</tspan>点、周五晚上及周末等休闲</text>
<text class="t" x="575.2" y="2711.1">时间</text>
<text class="t" x="450.7" y="2748.6">善用评论区</text>
<text class="t" x="594.2" y="2748.6">回复用户的问题、与用户互动，提高用户忠诚度、活跃度</text>
<text class="t" x="450.7" y="2786.6">持续维护：抖音的推荐算法有时候会<tspan class="q">“</tspan>挖坟<tspan class="q">”</tspan>，就是新的热门带火老的短视频</text>
<text class="t" x="450.7" y="2824.1">稳定的更新机制</text>
<text class="t" x="633.7" y="2824.1">每周<tspan class="l" textLength="12.2" lengthAdjust="spacingAndGlyphs">2</tspan><tspan class="l" textLength="6.7" lengthAdjust="spacingAndGlyphs">-</tspan><tspan class="l" textLength="12.2" lengthAdjust="spacingAndGlyphs">3</tspan>次更新内容，让用户产生期望和粘性</text>
<text class="m" transform="translate(308.2,2901.8) scale(1.04,1)">多账号矩阵</text>
<text class="t" x="474.7" y="2903.1">做起了一个大号，再给其他的小号倒流（与电商同理）</text>
<text class="m" transform="translate(308.2,3012.8) scale(1.04,1)">流量动态调整</text>
<text class="t" x="498.7" y="2981.6">根据平台规则，及时调整做内容的手法</text>
<text class="t" x="498.7" y="3017.6">每日都要搜集最热门的素材，起码每日搜索出同类型<tspan class="l" textLength="48.7" lengthAdjust="spacingAndGlyphs">1000</tspan>例以上，海选出<tspan class="l" textLength="36.5" lengthAdjust="spacingAndGlyphs">100</tspan>例，然</text>
<text class="t" x="498.7" y="3046.6">后根据难易度进行评估最后确定做哪一类，然后设计脚本。</text>
<text class="m" transform="translate(308.2,3124.3) scale(1.04,1)">直播权限</text>
<text class="t" x="451.2" y="3125.1">抖音主动邀请账号运营主开通的，一般粉丝量达到几千<tspan class="l" textLength="6.7" lengthAdjust="spacingAndGlyphs">-</tspan>上万不等就都能收到。</text>
<text class="m" transform="translate(308.2,3203.8) scale(1.04,1)">企业号（蓝<tspan class="l" style="stroke:#f0daec" textLength="11.7" lengthAdjust="spacingAndGlyphs">v</tspan>）</text>
<text class="t" x="511.2" y="3205.1">同时满足：大于等于<tspan class="l" textLength="48.7" lengthAdjust="spacingAndGlyphs">3000</tspan>粉丝；大于等于<tspan class="l" textLength="24.4" lengthAdjust="spacingAndGlyphs">10</tspan>个视频作品；实名认证</text>
<text class="m" transform="translate(308.2,3312.4) scale(1.04,1)"><tspan class="l" style="stroke:#d4e6f8" textLength="56.5" lengthAdjust="spacingAndGlyphs">Dou+</tspan></text>
<text class="t" x="421.2" y="3283.4">内容加热工具，抖音官方广告平台。一般具有上热搜的潜质的内容，预计粉丝量快要达</text>
<text class="t" x="421.2" y="3312.5">到<tspan class="l" textLength="12.2" lengthAdjust="spacingAndGlyphs">1</tspan>万<tspan class="l" textLength="11.8" lengthAdjust="spacingAndGlyphs">+</tspan>，可以用抖<tspan class="l" textLength="11.8" lengthAdjust="spacingAndGlyphs">+</tspan>加一把油。上来时没必要的，因为还不知道内容是否能够持续给到</text>
<text class="t" x="421.2" y="3340.5">流量池</text></g>
</svg>
</body>
</html>
